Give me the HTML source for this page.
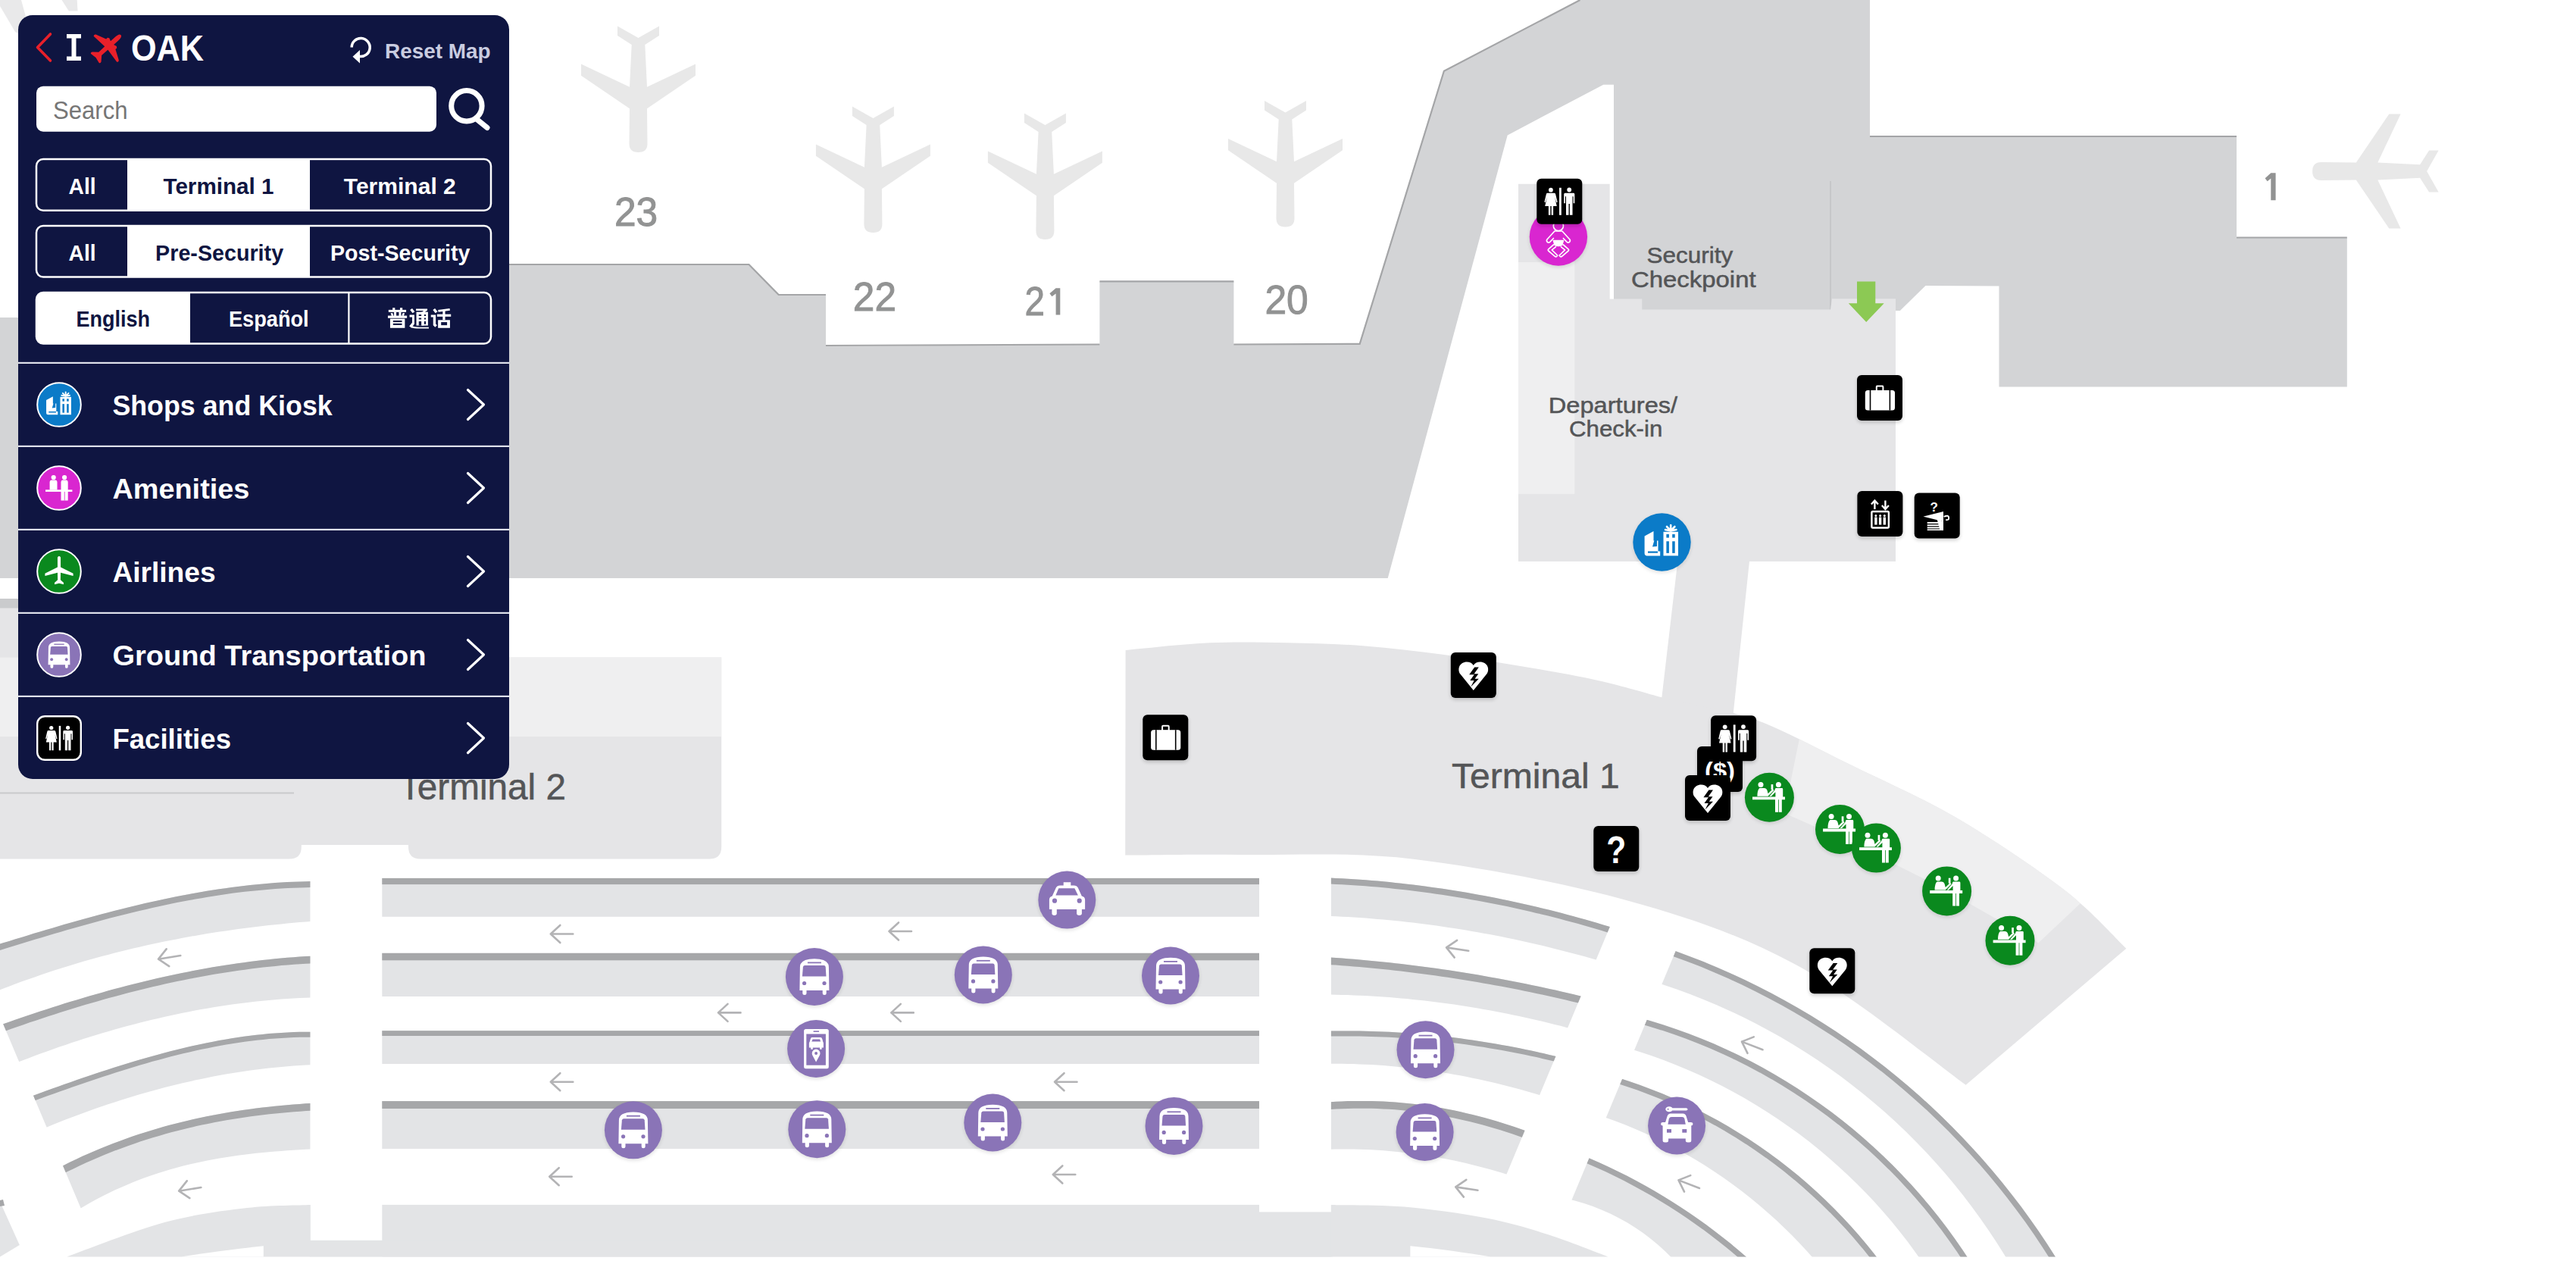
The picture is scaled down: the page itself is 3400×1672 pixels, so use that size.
<!DOCTYPE html>
<html><head><meta charset="utf-8"><title>OAK Map</title>
<style>html,body{margin:0;padding:0;background:#fff;overflow:hidden}svg{display:block}</style></head>
<body><svg width="3400" height="1672" viewBox="0 0 3400 1672">
<defs><filter id="blur" x="-30%" y="-30%" width="160%" height="160%"><feGaussianBlur stdDeviation="2.5"/></filter><clipPath id="cT1"><path d="M1485.6,857.9 C1504.1,856.3 1561.1,849.9 1596.7,848.3 C1632.3,846.7 1665.1,847.6 1699.2,848.3 C1733.3,849 1767.4,849.8 1801.6,852.4 C1835.8,855 1869.9,859.3 1904.1,863.7 C1938.3,868.1 1972.4,873.3 2006.6,879 C2040.8,884.7 2078.1,891 2109.1,897.9 C2140.1,904.8 2178.9,916.4 2192.8,920.1 L2286.8,940.6 C2295.7,943.7 2314.6,947.8 2340,959 C2365.4,970.2 2399.2,987.8 2439.4,1007.8 C2479.7,1027.8 2534.2,1051.2 2581.5,1078.8 C2628.8,1106.4 2686,1144.8 2723.5,1173.6 C2761,1202.4 2792.6,1238.7 2806.4,1251.7 L2594.6,1431.7 C2558.1,1405.8 2449.8,1316.5 2375.7,1276 C2301.6,1235.5 2235,1212.7 2150,1189 C2065,1165.3 1950.7,1144 1865.7,1133.8 C1780.7,1123.6 1703.4,1128.9 1640,1128 C1576.6,1127.1 1511,1128.5 1485.2,1128.6 Z"/></clipPath><clipPath id="cL"><polygon points="-101.9,1100 409.4,1100 409.4,1658.5 133.7,1658.5"/></clipPath><clipPath id="cM"><polygon points="1756.9,1100 2176.2,1100 1943,1658.5 1756.9,1658.5"/></clipPath><clipPath id="cR"><polygon points="2234.7,1200 3000,1200 3000,1658.5 2043.1,1658.5"/></clipPath></defs>
<rect width="3400" height="1672" fill="#fff"/>
<polygon fill="#d3d4d6" points="0,419 300,419 300,349 988.5,349 1027.7,389 1090,389 1090,457 1451.4,454.5 1451.4,371.4 1628.4,371.4 1628.4,454.5 1794.7,453.8 1905.9,93.7 2085.5,0 2468,0 2468,180 2952,180 2952,313.5 3097.8,313.5 3097.8,510.4 2638.5,510.4 2638.5,377.4 2541.5,377 2507.8,410 2502,410 2502,740.6 2004,740.6 2004,763 0,763"/><polyline fill="none" stroke="#a4a5a7" stroke-width="2.2" points="672,349 988.5,349 1027.7,389 1090,389"/><polyline fill="none" stroke="#a4a5a7" stroke-width="2.2" points="1090,456 1451.4,454.5"/><polyline fill="none" stroke="#a4a5a7" stroke-width="2.2" points="1451.4,371.4 1628.4,371.4"/><polyline fill="none" stroke="#a4a5a7" stroke-width="2.2" points="1628.4,454.5 1794.7,453.8 1905.9,93.7 2085.5,0"/><polyline fill="none" stroke="#a4a5a7" stroke-width="2.2" points="2468,180 2952,180"/><polyline fill="none" stroke="#a4a5a7" stroke-width="2.2" points="2952,313.5 3097.8,313.5"/><rect x="0" y="790" width="40" height="13" fill="#cacbcd"/><polygon fill="#fff" points="1989.7,178.4 2116.3,111.7 2130,111.7 2130,400 2004,400 2004,790 1824.5,790 1831.8,762.8"/><line x1="2416" y1="239" x2="2416" y2="409" stroke="#c6c7c9" stroke-width="2"/><polygon fill="#e5e5e7" points="2004,242.8 2124.7,242.8 2124.7,394.6 2167.3,394.6 2167.3,408.4 2416,408.4 2418,394.3 2502,394.3 2502,740.6 2004,740.6"/><rect x="2004" y="346" width="74.3" height="305.8" fill="#efeff0"/><polygon fill="#e5e5e7" points="2215,735 2309.6,735 2286.8,950 2192.8,925"/><path fill="#e5e5e7" d="M1485.6,857.9 C1504.1,856.3 1561.1,849.9 1596.7,848.3 C1632.3,846.7 1665.1,847.6 1699.2,848.3 C1733.3,849 1767.4,849.8 1801.6,852.4 C1835.8,855 1869.9,859.3 1904.1,863.7 C1938.3,868.1 1972.4,873.3 2006.6,879 C2040.8,884.7 2078.1,891 2109.1,897.9 C2140.1,904.8 2178.9,916.4 2192.8,920.1 L2286.8,940.6 C2295.7,943.7 2314.6,947.8 2340,959 C2365.4,970.2 2399.2,987.8 2439.4,1007.8 C2479.7,1027.8 2534.2,1051.2 2581.5,1078.8 C2628.8,1106.4 2686,1144.8 2723.5,1173.6 C2761,1202.4 2792.6,1238.7 2806.4,1251.7 L2594.6,1431.7 C2558.1,1405.8 2449.8,1316.5 2375.7,1276 C2301.6,1235.5 2235,1212.7 2150,1189 C2065,1165.3 1950.7,1144 1865.7,1133.8 C1780.7,1123.6 1703.4,1128.9 1640,1128 C1576.6,1127.1 1511,1128.5 1485.2,1128.6 Z"/><polygon clip-path="url(#cT1)" fill="#efeff0" points="2380,950 2780,1160 2690.5,1244.2 2560,1170 2450,1115 2355,1073"/><path fill="#e5e5e7" d="M0,802.5 L600,802.5 L600,867.6 L952.2,867.6 L952.2,1117.4 Q952.2,1133.4 936.2,1133.4 L555,1133.4 Q539,1133.4 539,1117.4 L539,1115 L397.8,1115 L397.8,1117.4 Q397.8,1133.4 381.8,1133.4 L0,1133.4 Z"/><rect x="0" y="867.6" width="952.2" height="104.4" fill="#efeff0"/><line x1="0" y1="1046.4" x2="388" y2="1046.4" stroke="#c9cacc" stroke-width="2"/><g clip-path="url(#cL)"><polygon fill="#e3e4e6" points="-60,1264.6 -51.9,1262 -43.7,1259.5 -35.6,1256.9 -27.5,1254.4 -19.3,1251.8 -11.2,1249.3 -3.1,1246.7 5.1,1244.2 13.2,1241.7 21.4,1239.2 29.5,1236.7 37.6,1234.2 45.8,1231.7 53.9,1229.3 62,1226.9 70.2,1224.5 78.3,1222.1 86.4,1219.7 94.6,1217.4 102.7,1215.1 110.8,1212.8 119,1210.6 127.1,1208.4 135.3,1206.2 143.4,1204 151.5,1201.9 159.7,1199.9 167.8,1197.8 175.9,1195.9 184.1,1193.9 192.2,1192 200.3,1190.2 208.5,1188.4 216.6,1186.6 224.7,1184.9 232.9,1183.2 241,1181.6 249.2,1180.1 257.3,1178.6 265.4,1177.2 273.6,1175.8 281.7,1174.5 289.8,1173.2 298,1172.1 306.1,1170.9 314.2,1169.9 322.4,1168.9 330.5,1168 338.6,1167.2 346.8,1166.4 354.9,1165.7 363.1,1165.1 371.2,1164.6 379.3,1164.1 387.5,1163.7 395.6,1163.4 403.7,1163.2 411.9,1163.1 420,1163.1 420,1215.2 411.9,1215.8 403.7,1216.4 395.6,1217.1 387.5,1217.8 379.3,1218.6 371.2,1219.4 363.1,1220.2 354.9,1221.1 346.8,1222 338.6,1222.9 330.5,1223.9 322.4,1225 314.2,1226.1 306.1,1227.2 298,1228.4 289.8,1229.6 281.7,1230.8 273.6,1232.1 265.4,1233.5 257.3,1234.9 249.2,1236.3 241,1237.8 232.9,1239.4 224.7,1241 216.6,1242.6 208.5,1244.3 200.3,1246 192.2,1247.8 184.1,1249.7 175.9,1251.5 167.8,1253.5 159.7,1255.5 151.5,1257.5 143.4,1259.7 135.3,1261.8 127.1,1264 119,1266.3 110.8,1268.6 102.7,1271 94.6,1273.5 86.4,1276 78.3,1278.5 70.2,1281.1 62,1283.8 53.9,1286.6 45.8,1289.4 37.6,1292.2 29.5,1295.1 21.4,1298.1 13.2,1301.2 5.1,1304.3 -3.1,1307.5 -11.2,1310.7 -19.3,1314 -27.5,1317.4 -35.6,1320.8 -43.7,1324.3 -51.9,1327.9 -60,1331.5"/><polyline fill="none" stroke="#a6a7a9" stroke-width="8" points="-60,1268.6 -51.9,1266 -43.7,1263.5 -35.6,1260.9 -27.5,1258.4 -19.3,1255.8 -11.2,1253.3 -3.1,1250.7 5.1,1248.2 13.2,1245.7 21.4,1243.2 29.5,1240.7 37.6,1238.2 45.8,1235.7 53.9,1233.3 62,1230.9 70.2,1228.5 78.3,1226.1 86.4,1223.7 94.6,1221.4 102.7,1219.1 110.8,1216.8 119,1214.6 127.1,1212.4 135.3,1210.2 143.4,1208 151.5,1205.9 159.7,1203.9 167.8,1201.8 175.9,1199.9 184.1,1197.9 192.2,1196 200.3,1194.2 208.5,1192.4 216.6,1190.6 224.7,1188.9 232.9,1187.2 241,1185.6 249.2,1184.1 257.3,1182.6 265.4,1181.2 273.6,1179.8 281.7,1178.5 289.8,1177.2 298,1176.1 306.1,1174.9 314.2,1173.9 322.4,1172.9 330.5,1172 338.6,1171.2 346.8,1170.4 354.9,1169.7 363.1,1169.1 371.2,1168.6 379.3,1168.1 387.5,1167.7 395.6,1167.4 403.7,1167.2 411.9,1167.1 420,1167.1"/><polygon fill="#e3e4e6" points="-60,1375.4 -51.9,1372.3 -43.7,1369.2 -35.6,1366.1 -27.5,1363.1 -19.3,1360.1 -11.2,1357.1 -3.1,1354.2 5.1,1351.3 13.2,1348.4 21.4,1345.6 29.5,1342.8 37.6,1340 45.8,1337.3 53.9,1334.6 62,1331.9 70.2,1329.3 78.3,1326.7 86.4,1324.1 94.6,1321.6 102.7,1319.2 110.8,1316.7 119,1314.3 127.1,1312 135.3,1309.7 143.4,1307.4 151.5,1305.2 159.7,1303 167.8,1300.9 175.9,1298.8 184.1,1296.8 192.2,1294.8 200.3,1292.9 208.5,1291 216.6,1289.1 224.7,1287.3 232.9,1285.6 241,1283.9 249.2,1282.3 257.3,1280.7 265.4,1279.2 273.6,1277.7 281.7,1276.3 289.8,1274.9 298,1273.6 306.1,1272.4 314.2,1271.2 322.4,1270.1 330.5,1269 338.6,1268 346.8,1267 354.9,1266.1 363.1,1265.3 371.2,1264.5 379.3,1263.8 387.5,1263.2 395.6,1262.6 403.7,1262.1 411.9,1261.7 420,1261.3 420,1316.2 411.9,1316.4 403.7,1316.7 395.6,1317.1 387.5,1317.5 379.3,1318 371.2,1318.6 363.1,1319.2 354.9,1319.9 346.8,1320.7 338.6,1321.6 330.5,1322.5 322.4,1323.4 314.2,1324.5 306.1,1325.6 298,1326.8 289.8,1328 281.7,1329.3 273.6,1330.7 265.4,1332.1 257.3,1333.6 249.2,1335.2 241,1336.8 232.9,1338.5 224.7,1340.2 216.6,1342 208.5,1343.9 200.3,1345.8 192.2,1347.8 184.1,1349.8 175.9,1351.9 167.8,1354.1 159.7,1356.3 151.5,1358.6 143.4,1360.9 135.3,1363.3 127.1,1365.8 119,1368.3 110.8,1370.8 102.7,1373.5 94.6,1376.1 86.4,1378.9 78.3,1381.6 70.2,1384.5 62,1387.4 53.9,1390.3 45.8,1393.3 37.6,1396.4 29.5,1399.5 21.4,1402.6 13.2,1405.8 5.1,1409.1 -3.1,1412.4 -11.2,1415.7 -19.3,1419.1 -27.5,1422.6 -35.6,1426.1 -43.7,1429.6 -51.9,1433.2 -60,1436.9"/><polyline fill="none" stroke="#a6a7a9" stroke-width="9.6" points="-60,1380.2 -51.9,1377.1 -43.7,1374 -35.6,1370.9 -27.5,1367.9 -19.3,1364.9 -11.2,1361.9 -3.1,1359 5.1,1356.1 13.2,1353.2 21.4,1350.4 29.5,1347.6 37.6,1344.8 45.8,1342.1 53.9,1339.4 62,1336.7 70.2,1334.1 78.3,1331.5 86.4,1328.9 94.6,1326.4 102.7,1324 110.8,1321.5 119,1319.1 127.1,1316.8 135.3,1314.5 143.4,1312.2 151.5,1310 159.7,1307.8 167.8,1305.7 175.9,1303.6 184.1,1301.6 192.2,1299.6 200.3,1297.7 208.5,1295.8 216.6,1293.9 224.7,1292.1 232.9,1290.4 241,1288.7 249.2,1287.1 257.3,1285.5 265.4,1284 273.6,1282.5 281.7,1281.1 289.8,1279.7 298,1278.4 306.1,1277.2 314.2,1276 322.4,1274.9 330.5,1273.8 338.6,1272.8 346.8,1271.8 354.9,1270.9 363.1,1270.1 371.2,1269.3 379.3,1268.6 387.5,1268 395.6,1267.4 403.7,1266.9 411.9,1266.5 420,1266.1"/><polygon fill="#e3e4e6" points="-60,1484 -51.9,1481.1 -43.7,1478.1 -35.6,1475.2 -27.5,1472.2 -19.3,1469.2 -11.2,1466.2 -3.1,1463.2 5.1,1460.2 13.2,1457.2 21.4,1454.2 29.5,1451.2 37.6,1448.2 45.8,1445.2 53.9,1442.3 62,1439.3 70.2,1436.4 78.3,1433.5 86.4,1430.6 94.6,1427.8 102.7,1424.9 110.8,1422.1 119,1419.4 127.1,1416.6 135.3,1413.9 143.4,1411.3 151.5,1408.7 159.7,1406.1 167.8,1403.6 175.9,1401.1 184.1,1398.7 192.2,1396.3 200.3,1394 208.5,1391.8 216.6,1389.6 224.7,1387.4 232.9,1385.4 241,1383.4 249.2,1381.5 257.3,1379.6 265.4,1377.9 273.6,1376.2 281.7,1374.6 289.8,1373 298,1371.6 306.1,1370.2 314.2,1369 322.4,1367.8 330.5,1366.7 338.6,1365.7 346.8,1364.9 354.9,1364.1 363.1,1363.4 371.2,1362.9 379.3,1362.4 387.5,1362.1 395.6,1361.8 403.7,1361.7 411.9,1361.7 420,1361.8 420,1404.7 411.9,1405.1 403.7,1405.5 395.6,1406 387.5,1406.5 379.3,1407.2 371.2,1407.9 363.1,1408.7 354.9,1409.5 346.8,1410.5 338.6,1411.5 330.5,1412.6 322.4,1413.7 314.2,1415 306.1,1416.3 298,1417.6 289.8,1419.1 281.7,1420.6 273.6,1422.2 265.4,1423.9 257.3,1425.6 249.2,1427.4 241,1429.3 232.9,1431.2 224.7,1433.2 216.6,1435.3 208.5,1437.5 200.3,1439.7 192.2,1442 184.1,1444.3 175.9,1446.7 167.8,1449.2 159.7,1451.8 151.5,1454.4 143.4,1457.1 135.3,1459.8 127.1,1462.6 119,1465.5 110.8,1468.4 102.7,1471.4 94.6,1474.5 86.4,1477.6 78.3,1480.8 70.2,1484.1 62,1487.4 53.9,1490.8 45.8,1494.3 37.6,1497.8 29.5,1501.3 21.4,1505 13.2,1508.6 5.1,1512.4 -3.1,1516.2 -11.2,1520.1 -19.3,1524 -27.5,1528 -35.6,1532 -43.7,1536.1 -51.9,1540.3 -60,1544.5"/><polyline fill="none" stroke="#a6a7a9" stroke-width="7" points="-60,1487.5 -51.9,1484.6 -43.7,1481.6 -35.6,1478.7 -27.5,1475.7 -19.3,1472.7 -11.2,1469.7 -3.1,1466.7 5.1,1463.7 13.2,1460.7 21.4,1457.7 29.5,1454.7 37.6,1451.7 45.8,1448.7 53.9,1445.8 62,1442.8 70.2,1439.9 78.3,1437 86.4,1434.1 94.6,1431.3 102.7,1428.4 110.8,1425.6 119,1422.9 127.1,1420.1 135.3,1417.4 143.4,1414.8 151.5,1412.2 159.7,1409.6 167.8,1407.1 175.9,1404.6 184.1,1402.2 192.2,1399.8 200.3,1397.5 208.5,1395.3 216.6,1393.1 224.7,1390.9 232.9,1388.9 241,1386.9 249.2,1385 257.3,1383.1 265.4,1381.4 273.6,1379.7 281.7,1378.1 289.8,1376.5 298,1375.1 306.1,1373.7 314.2,1372.5 322.4,1371.3 330.5,1370.2 338.6,1369.2 346.8,1368.4 354.9,1367.6 363.1,1366.9 371.2,1366.4 379.3,1365.9 387.5,1365.6 395.6,1365.3 403.7,1365.2 411.9,1365.2 420,1365.3"/><polygon fill="#e3e4e6" points="-60,1632.4 -51.9,1625.8 -43.7,1619.4 -35.6,1613.2 -27.5,1607.1 -19.3,1601.2 -11.2,1595.4 -3.1,1589.8 5.1,1584.3 13.2,1578.9 21.4,1573.7 29.5,1568.7 37.6,1563.8 45.8,1559 53.9,1554.3 62,1549.8 70.2,1545.4 78.3,1541.2 86.4,1537.1 94.6,1533.1 102.7,1529.2 110.8,1525.4 119,1521.8 127.1,1518.3 135.3,1514.9 143.4,1511.6 151.5,1508.4 159.7,1505.4 167.8,1502.4 175.9,1499.6 184.1,1496.8 192.2,1494.2 200.3,1491.7 208.5,1489.3 216.6,1486.9 224.7,1484.7 232.9,1482.6 241,1480.5 249.2,1478.6 257.3,1476.7 265.4,1474.9 273.6,1473.2 281.7,1471.6 289.8,1470.1 298,1468.6 306.1,1467.3 314.2,1466 322.4,1464.8 330.5,1463.6 338.6,1462.5 346.8,1461.5 354.9,1460.6 363.1,1459.7 371.2,1458.9 379.3,1458.2 387.5,1457.5 395.6,1456.9 403.7,1456.3 411.9,1455.8 420,1455.3 420,1515.8 411.9,1516.3 403.7,1516.7 395.6,1517.2 387.5,1517.7 379.3,1518.3 371.2,1518.9 363.1,1519.5 354.9,1520.2 346.8,1521 338.6,1521.8 330.5,1522.7 322.4,1523.7 314.2,1524.8 306.1,1525.9 298,1527.2 289.8,1528.5 281.7,1530 273.6,1531.5 265.4,1533.2 257.3,1534.9 249.2,1536.8 241,1538.8 232.9,1541 224.7,1543.3 216.6,1545.7 208.5,1548.2 200.3,1550.9 192.2,1553.8 184.1,1556.8 175.9,1560 167.8,1563.4 159.7,1566.9 151.5,1570.6 143.4,1574.5 135.3,1578.5 127.1,1582.8 119,1587.3 110.8,1591.9 102.7,1596.8 94.6,1601.9 86.4,1607.2 78.3,1612.7 70.2,1618.5 62,1624.5 53.9,1630.7 45.8,1637.1 37.6,1643.8 29.5,1650.8 21.4,1658 13.2,1665.5 5.1,1673.2 -3.1,1681.2 -11.2,1689.5 -19.3,1698.1 -27.5,1706.9 -35.6,1716.1 -43.7,1725.5 -51.9,1735.2 -60,1745.3"/><polyline fill="none" stroke="#a6a7a9" stroke-width="9.8" points="-60,1637.3 -51.9,1630.7 -43.7,1624.3 -35.6,1618.1 -27.5,1612 -19.3,1606.1 -11.2,1600.3 -3.1,1594.7 5.1,1589.2 13.2,1583.8 21.4,1578.6 29.5,1573.6 37.6,1568.7 45.8,1563.9 53.9,1559.2 62,1554.7 70.2,1550.3 78.3,1546.1 86.4,1542 94.6,1538 102.7,1534.1 110.8,1530.3 119,1526.7 127.1,1523.2 135.3,1519.8 143.4,1516.5 151.5,1513.3 159.7,1510.3 167.8,1507.3 175.9,1504.5 184.1,1501.7 192.2,1499.1 200.3,1496.6 208.5,1494.2 216.6,1491.8 224.7,1489.6 232.9,1487.5 241,1485.4 249.2,1483.5 257.3,1481.6 265.4,1479.8 273.6,1478.1 281.7,1476.5 289.8,1475 298,1473.5 306.1,1472.2 314.2,1470.9 322.4,1469.7 330.5,1468.5 338.6,1467.4 346.8,1466.4 354.9,1465.5 363.1,1464.6 371.2,1463.8 379.3,1463.1 387.5,1462.4 395.6,1461.8 403.7,1461.2 411.9,1460.7 420,1460.2"/></g><polygon fill="#e3e4e6" points="0,1585.8 25.8,1642.9 0,1658.4"/><polygon fill="#a6a7a9" points="0,1584 4,1583 6,1591 0,1592"/><path fill="#e3e4e6" d="M88.3,1658.4  C109.8,1650.8 177.8,1623.7 217.4,1613 C257,1602.3 293.9,1597.8 326,1594 C358.1,1590.2 395.8,1590.6 409.8,1589.9 L409.8,1658.4 Z"/><path fill="#fff" d="M239,1658.6 C280,1652 320,1647 347.8,1644.2 L347.8,1658.6 Z"/><rect x="504.3" y="1158.9" width="1157.7" height="50.9" fill="#e3e4e6"/><rect x="504.3" y="1158.9" width="1157.7" height="8.2" fill="#a6a7a9"/><rect x="504.3" y="1257.8" width="1157.7" height="57.2" fill="#e3e4e6"/><rect x="504.3" y="1257.8" width="1157.7" height="9.5" fill="#a6a7a9"/><rect x="504.3" y="1360.2" width="1157.7" height="43.8" fill="#e3e4e6"/><rect x="504.3" y="1360.2" width="1157.7" height="6.8" fill="#a6a7a9"/><rect x="504.3" y="1453.1" width="1157.7" height="62.9" fill="#e3e4e6"/><rect x="504.3" y="1453.1" width="1157.7" height="9.9" fill="#a6a7a9"/><rect x="409.4" y="1636.9" width="1347.5" height="21.5" fill="#e3e4e6"/><rect x="504.3" y="1589.9" width="1157.7" height="68.5" fill="#e3e4e6"/><rect x="409" y="1636.9" width="1350" height="21.5" fill="#e3e4e6"/><rect x="1662" y="1599.4" width="95" height="59" fill="#e3e4e6"/><g clip-path="url(#cM)"><polygon fill="#e3e4e6" points="1740,1157.9 1747.8,1158.2 1755.6,1158.5 1763.4,1158.9 1771.2,1159.3 1779,1159.7 1786.8,1160.2 1794.6,1160.8 1802.4,1161.3 1810.2,1162 1818,1162.6 1825.8,1163.3 1833.6,1164.1 1841.4,1164.9 1849.2,1165.7 1856.9,1166.6 1864.7,1167.5 1872.5,1168.5 1880.3,1169.5 1888.1,1170.6 1895.9,1171.7 1903.7,1172.8 1911.5,1174 1919.3,1175.2 1927.1,1176.5 1934.9,1177.8 1942.7,1179.2 1950.5,1180.6 1958.3,1182 1966.1,1183.5 1973.9,1185 1981.7,1186.6 1989.5,1188.2 1997.3,1189.9 2005.1,1191.6 2012.9,1193.3 2020.7,1195.1 2028.5,1197 2036.3,1198.8 2044.1,1200.7 2051.9,1202.7 2059.7,1204.7 2067.5,1206.8 2075.3,1208.9 2083.1,1211 2090.8,1213.2 2098.6,1215.4 2106.4,1217.7 2114.2,1220 2122,1222.3 2129.8,1224.7 2137.6,1227.1 2145.4,1229.6 2153.2,1232.2 2161,1234.7 2168.8,1237.3 2176.6,1240 2184.4,1242.7 2192.2,1245.4 2200,1248.2 2200,1296.5 2192.2,1293.8 2184.4,1291.1 2176.6,1288.4 2168.8,1285.8 2161,1283.3 2153.2,1280.7 2145.4,1278.3 2137.6,1275.8 2129.8,1273.4 2122,1271.1 2114.2,1268.8 2106.4,1266.5 2098.6,1264.3 2090.8,1262.1 2083.1,1260 2075.3,1257.9 2067.5,1255.9 2059.7,1253.9 2051.9,1251.9 2044.1,1250 2036.3,1248.1 2028.5,1246.3 2020.7,1244.5 2012.9,1242.7 2005.1,1241 1997.3,1239.3 1989.5,1237.7 1981.7,1236.1 1973.9,1234.6 1966.1,1233.1 1958.3,1231.7 1950.5,1230.3 1942.7,1228.9 1934.9,1227.6 1927.1,1226.3 1919.3,1225.1 1911.5,1223.9 1903.7,1222.7 1895.9,1221.6 1888.1,1220.5 1880.3,1219.5 1872.5,1218.5 1864.7,1217.6 1856.9,1216.7 1849.2,1215.8 1841.4,1215 1833.6,1214.3 1825.8,1213.5 1818,1212.9 1810.2,1212.2 1802.4,1211.6 1794.6,1211.1 1786.8,1210.6 1779,1210.1 1771.2,1209.7 1763.4,1209.3 1755.6,1209 1747.8,1208.7 1740,1208.4"/><polyline fill="none" stroke="#a6a7a9" stroke-width="8" points="1740,1161.9 1747.8,1162.2 1755.6,1162.5 1763.4,1162.9 1771.2,1163.3 1779,1163.7 1786.8,1164.2 1794.6,1164.8 1802.4,1165.3 1810.2,1166 1818,1166.6 1825.8,1167.3 1833.6,1168.1 1841.4,1168.9 1849.2,1169.7 1856.9,1170.6 1864.7,1171.5 1872.5,1172.5 1880.3,1173.5 1888.1,1174.6 1895.9,1175.7 1903.7,1176.8 1911.5,1178 1919.3,1179.2 1927.1,1180.5 1934.9,1181.8 1942.7,1183.2 1950.5,1184.6 1958.3,1186 1966.1,1187.5 1973.9,1189 1981.7,1190.6 1989.5,1192.2 1997.3,1193.9 2005.1,1195.6 2012.9,1197.3 2020.7,1199.1 2028.5,1201 2036.3,1202.8 2044.1,1204.7 2051.9,1206.7 2059.7,1208.7 2067.5,1210.8 2075.3,1212.9 2083.1,1215 2090.8,1217.2 2098.6,1219.4 2106.4,1221.7 2114.2,1224 2122,1226.3 2129.8,1228.7 2137.6,1231.1 2145.4,1233.6 2153.2,1236.2 2161,1238.7 2168.8,1241.3 2176.6,1244 2184.4,1246.7 2192.2,1249.4 2200,1252.2"/><polygon fill="#e3e4e6" points="1740,1262.5 1747.8,1263 1755.6,1263.5 1763.4,1264 1771.2,1264.6 1779,1265.2 1786.8,1265.8 1794.6,1266.5 1802.4,1267.2 1810.2,1267.9 1818,1268.7 1825.8,1269.4 1833.6,1270.3 1841.4,1271.1 1849.2,1272 1856.9,1272.9 1864.7,1273.9 1872.5,1274.9 1880.3,1275.9 1888.1,1277 1895.9,1278 1903.7,1279.2 1911.5,1280.3 1919.3,1281.5 1927.1,1282.7 1934.9,1283.9 1942.7,1285.2 1950.5,1286.5 1958.3,1287.9 1966.1,1289.3 1973.9,1290.7 1981.7,1292.1 1989.5,1293.6 1997.3,1295.1 2005.1,1296.6 2012.9,1298.2 2020.7,1299.8 2028.5,1301.4 2036.3,1303.1 2044.1,1304.8 2051.9,1306.5 2059.7,1308.3 2067.5,1310.1 2075.3,1311.9 2083.1,1313.8 2090.8,1315.7 2098.6,1317.6 2106.4,1319.6 2114.2,1321.6 2122,1323.6 2129.8,1325.7 2137.6,1327.8 2145.4,1329.9 2153.2,1332.1 2161,1334.2 2168.8,1336.5 2176.6,1338.7 2184.4,1341 2192.2,1343.3 2200,1345.7 2200,1397.7 2192.2,1394.9 2184.4,1392.1 2176.6,1389.3 2168.8,1386.6 2161,1384 2153.2,1381.3 2145.4,1378.8 2137.6,1376.3 2129.8,1373.8 2122,1371.4 2114.2,1369 2106.4,1366.7 2098.6,1364.5 2090.8,1362.2 2083.1,1360.1 2075.3,1357.9 2067.5,1355.9 2059.7,1353.8 2051.9,1351.9 2044.1,1349.9 2036.3,1348.1 2028.5,1346.2 2020.7,1344.4 2012.9,1342.7 2005.1,1341 1997.3,1339.4 1989.5,1337.8 1981.7,1336.2 1973.9,1334.8 1966.1,1333.3 1958.3,1331.9 1950.5,1330.6 1942.7,1329.3 1934.9,1328 1927.1,1326.8 1919.3,1325.6 1911.5,1324.5 1903.7,1323.5 1895.9,1322.5 1888.1,1321.5 1880.3,1320.6 1872.5,1319.7 1864.7,1318.9 1856.9,1318.1 1849.2,1317.4 1841.4,1316.7 1833.6,1316.1 1825.8,1315.5 1818,1315 1810.2,1314.5 1802.4,1314.1 1794.6,1313.7 1786.8,1313.4 1779,1313.1 1771.2,1312.9 1763.4,1312.7 1755.6,1312.5 1747.8,1312.4 1740,1312.4"/><polyline fill="none" stroke="#a6a7a9" stroke-width="9.6" points="1740,1267.3 1747.8,1267.8 1755.6,1268.3 1763.4,1268.8 1771.2,1269.4 1779,1270 1786.8,1270.6 1794.6,1271.3 1802.4,1272 1810.2,1272.7 1818,1273.5 1825.8,1274.2 1833.6,1275.1 1841.4,1275.9 1849.2,1276.8 1856.9,1277.7 1864.7,1278.7 1872.5,1279.7 1880.3,1280.7 1888.1,1281.8 1895.9,1282.8 1903.7,1284 1911.5,1285.1 1919.3,1286.3 1927.1,1287.5 1934.9,1288.7 1942.7,1290 1950.5,1291.3 1958.3,1292.7 1966.1,1294.1 1973.9,1295.5 1981.7,1296.9 1989.5,1298.4 1997.3,1299.9 2005.1,1301.4 2012.9,1303 2020.7,1304.6 2028.5,1306.2 2036.3,1307.9 2044.1,1309.6 2051.9,1311.3 2059.7,1313.1 2067.5,1314.9 2075.3,1316.7 2083.1,1318.6 2090.8,1320.5 2098.6,1322.4 2106.4,1324.4 2114.2,1326.4 2122,1328.4 2129.8,1330.5 2137.6,1332.6 2145.4,1334.7 2153.2,1336.9 2161,1339 2168.8,1341.3 2176.6,1343.5 2184.4,1345.8 2192.2,1348.1 2200,1350.5"/><polygon fill="#e3e4e6" points="1740,1361 1747.8,1360.8 1755.6,1360.6 1763.4,1360.5 1771.2,1360.4 1779,1360.4 1786.8,1360.5 1794.6,1360.6 1802.4,1360.7 1810.2,1360.9 1818,1361.2 1825.8,1361.5 1833.6,1361.8 1841.4,1362.3 1849.2,1362.7 1856.9,1363.2 1864.7,1363.8 1872.5,1364.4 1880.3,1365.1 1888.1,1365.9 1895.9,1366.6 1903.7,1367.5 1911.5,1368.4 1919.3,1369.3 1927.1,1370.3 1934.9,1371.4 1942.7,1372.5 1950.5,1373.7 1958.3,1374.9 1966.1,1376.2 1973.9,1377.5 1981.7,1378.9 1989.5,1380.3 1997.3,1381.8 2005.1,1383.3 2012.9,1384.9 2020.7,1386.5 2028.5,1388.2 2036.3,1390 2044.1,1391.8 2051.9,1393.6 2059.7,1395.6 2067.5,1397.5 2075.3,1399.5 2083.1,1401.6 2090.8,1403.7 2098.6,1405.9 2106.4,1408.2 2114.2,1410.4 2122,1412.8 2129.8,1415.2 2137.6,1417.6 2145.4,1420.1 2153.2,1422.7 2161,1425.3 2168.8,1427.9 2176.6,1430.6 2184.4,1433.4 2192.2,1436.2 2200,1439.1 2200,1511.7 2192.2,1507.9 2184.4,1504.2 2176.6,1500.5 2168.8,1497 2161,1493.4 2153.2,1490 2145.4,1486.6 2137.6,1483.3 2129.8,1480 2122,1476.9 2114.2,1473.8 2106.4,1470.7 2098.6,1467.7 2090.8,1464.8 2083.1,1462 2075.3,1459.2 2067.5,1456.5 2059.7,1453.9 2051.9,1451.3 2044.1,1448.8 2036.3,1446.4 2028.5,1444 2020.7,1441.7 2012.9,1439.5 2005.1,1437.3 1997.3,1435.2 1989.5,1433.2 1981.7,1431.2 1973.9,1429.3 1966.1,1427.5 1958.3,1425.7 1950.5,1424 1942.7,1422.4 1934.9,1420.8 1927.1,1419.3 1919.3,1417.9 1911.5,1416.6 1903.7,1415.3 1895.9,1414.1 1888.1,1412.9 1880.3,1411.8 1872.5,1410.8 1864.7,1409.9 1856.9,1409 1849.2,1408.2 1841.4,1407.4 1833.6,1406.7 1825.8,1406.1 1818,1405.6 1810.2,1405.1 1802.4,1404.7 1794.6,1404.4 1786.8,1404.1 1779,1403.9 1771.2,1403.7 1763.4,1403.7 1755.6,1403.7 1747.8,1403.7 1740,1403.9"/><polyline fill="none" stroke="#a6a7a9" stroke-width="7" points="1740,1364.5 1747.8,1364.3 1755.6,1364.1 1763.4,1364 1771.2,1363.9 1779,1363.9 1786.8,1364 1794.6,1364.1 1802.4,1364.2 1810.2,1364.4 1818,1364.7 1825.8,1365 1833.6,1365.3 1841.4,1365.8 1849.2,1366.2 1856.9,1366.7 1864.7,1367.3 1872.5,1367.9 1880.3,1368.6 1888.1,1369.4 1895.9,1370.1 1903.7,1371 1911.5,1371.9 1919.3,1372.8 1927.1,1373.8 1934.9,1374.9 1942.7,1376 1950.5,1377.2 1958.3,1378.4 1966.1,1379.7 1973.9,1381 1981.7,1382.4 1989.5,1383.8 1997.3,1385.3 2005.1,1386.8 2012.9,1388.4 2020.7,1390 2028.5,1391.7 2036.3,1393.5 2044.1,1395.3 2051.9,1397.1 2059.7,1399.1 2067.5,1401 2075.3,1403 2083.1,1405.1 2090.8,1407.2 2098.6,1409.4 2106.4,1411.7 2114.2,1413.9 2122,1416.3 2129.8,1418.7 2137.6,1421.1 2145.4,1423.6 2153.2,1426.2 2161,1428.8 2168.8,1431.4 2176.6,1434.1 2184.4,1436.9 2192.2,1439.7 2200,1442.6"/><polygon fill="#e3e4e6" points="1740,1455.6 1747.8,1454.9 1755.6,1454.3 1763.4,1453.8 1771.2,1453.4 1779,1453.1 1786.8,1452.9 1794.6,1452.9 1802.4,1452.9 1810.2,1453 1818,1453.2 1825.8,1453.6 1833.6,1454 1841.4,1454.5 1849.2,1455.2 1856.9,1455.9 1864.7,1456.8 1872.5,1457.7 1880.3,1458.7 1888.1,1459.9 1895.9,1461.2 1903.7,1462.5 1911.5,1464 1919.3,1465.5 1927.1,1467.2 1934.9,1469 1942.7,1470.8 1950.5,1472.8 1958.3,1474.9 1966.1,1477.1 1973.9,1479.3 1981.7,1481.7 1989.5,1484.2 1997.3,1486.8 2005.1,1489.5 2012.9,1492.3 2020.7,1495.2 2028.5,1498.2 2036.3,1501.3 2044.1,1504.5 2051.9,1507.8 2059.7,1511.2 2067.5,1514.7 2075.3,1518.3 2083.1,1522 2090.8,1525.8 2098.6,1529.8 2106.4,1533.8 2114.2,1537.9 2122,1542.2 2129.8,1546.5 2137.6,1550.9 2145.4,1555.5 2153.2,1560.1 2161,1564.8 2168.8,1569.7 2176.6,1574.6 2184.4,1579.7 2192.2,1584.8 2200,1590.1 2200,1647.9 2192.2,1643.1 2184.4,1638.4 2176.6,1633.8 2168.8,1629.3 2161,1624.9 2153.2,1620.6 2145.4,1616.3 2137.6,1612.2 2129.8,1608.1 2122,1604.1 2114.2,1600.2 2106.4,1596.4 2098.6,1592.7 2090.8,1589.1 2083.1,1585.5 2075.3,1582.1 2067.5,1578.7 2059.7,1575.4 2051.9,1572.3 2044.1,1569.2 2036.3,1566.2 2028.5,1563.2 2020.7,1560.4 2012.9,1557.7 2005.1,1555 1997.3,1552.4 1989.5,1550 1981.7,1547.6 1973.9,1545.3 1966.1,1543.1 1958.3,1540.9 1950.5,1538.9 1942.7,1536.9 1934.9,1535.1 1927.1,1533.3 1919.3,1531.6 1911.5,1530 1903.7,1528.5 1895.9,1527.1 1888.1,1525.8 1880.3,1524.5 1872.5,1523.4 1864.7,1522.3 1856.9,1521.3 1849.2,1520.5 1841.4,1519.7 1833.6,1518.9 1825.8,1518.3 1818,1517.8 1810.2,1517.3 1802.4,1517 1794.6,1516.7 1786.8,1516.5 1779,1516.4 1771.2,1516.4 1763.4,1516.5 1755.6,1516.7 1747.8,1517 1740,1517.3"/><polyline fill="none" stroke="#a6a7a9" stroke-width="9.8" points="1740,1460.5 1747.8,1459.8 1755.6,1459.2 1763.4,1458.7 1771.2,1458.3 1779,1458 1786.8,1457.8 1794.6,1457.8 1802.4,1457.8 1810.2,1457.9 1818,1458.1 1825.8,1458.5 1833.6,1458.9 1841.4,1459.4 1849.2,1460.1 1856.9,1460.8 1864.7,1461.7 1872.5,1462.6 1880.3,1463.6 1888.1,1464.8 1895.9,1466.1 1903.7,1467.4 1911.5,1468.9 1919.3,1470.4 1927.1,1472.1 1934.9,1473.9 1942.7,1475.7 1950.5,1477.7 1958.3,1479.8 1966.1,1482 1973.9,1484.2 1981.7,1486.6 1989.5,1489.1 1997.3,1491.7 2005.1,1494.4 2012.9,1497.2 2020.7,1500.1 2028.5,1503.1 2036.3,1506.2 2044.1,1509.4 2051.9,1512.7 2059.7,1516.1 2067.5,1519.6 2075.3,1523.2 2083.1,1526.9 2090.8,1530.7 2098.6,1534.7 2106.4,1538.7 2114.2,1542.8 2122,1547.1 2129.8,1551.4 2137.6,1555.8 2145.4,1560.4 2153.2,1565 2161,1569.7 2168.8,1574.6 2176.6,1579.5 2184.4,1584.6 2192.2,1589.7 2200,1595"/></g><path fill="#e3e4e6" d="M1756.8,1589.9  C1772.9,1590.4 1819.1,1589.6 1853.3,1592.6 C1887.5,1595.5 1930.3,1601.5 1962,1607.6 C1993.7,1613.7 2016.8,1620.8 2043.5,1629.3 C2070.2,1637.8 2109.2,1653.6 2122.3,1658.4 L1756.8,1658.4 Z"/><path fill="#fff" d="M1861.4,1644.2 C1900,1648 1935,1653 1967.4,1658.6 L1861.4,1658.6 Z"/><g clip-path="url(#cR)"><polygon fill="#e3e4e6" points="1460.6,1293.4 1478.5,1285 1496.6,1277 1514.9,1269.4 1533.3,1262.2 1551.9,1255.3 1570.6,1248.8 1589.4,1242.7 1608.3,1237 1627.4,1231.7 1646.5,1226.7 1665.8,1222.2 1685.1,1218 1704.5,1214.2 1724,1210.8 1743.6,1207.8 1763.2,1205.2 1782.9,1203 1802.6,1201.2 1822.3,1199.8 1842,1198.8 1861.8,1198.2 1881.6,1198 1901.4,1198.2 1921.1,1198.8 1940.9,1199.7 1960.6,1201.1 1980.3,1202.9 2000,1205.1 2019.6,1207.7 2039.2,1210.7 2058.6,1214.1 2078.1,1217.8 2097.4,1222 2116.7,1226.5 2135.8,1231.5 2154.9,1236.8 2173.8,1242.5 2192.7,1248.6 2211.4,1255.1 2230,1261.9 2248.4,1269.2 2266.7,1276.8 2284.8,1284.7 2302.8,1293.1 2320.6,1301.7 2338.2,1310.8 2355.6,1320.2 2372.9,1330 2389.9,1340.1 2406.8,1350.5 2423.4,1361.3 2439.8,1372.5 2456,1383.9 2472,1395.7 2487.7,1407.8 2503.1,1420.2 2518.4,1433 2533.3,1446 2548,1459.4 2562.4,1473 2576.6,1487 2590.4,1501.2 2604,1515.7 2617.3,1530.5 2630.3,1545.5 2643,1560.8 2655.4,1576.4 2667.4,1592.2 2679.2,1608.3 2690.6,1624.6 2701.7,1641.1 2712.4,1657.9 2722.8,1674.9 2732.9,1692 2742.6,1709.4 2752,1727 2761,1744.8 2769.7,1762.8 2778,1780.9 2785.9,1799.2 2793.5,1817.7 2800.7,1836.3 2807.5,1855.1 2813.9,1874 2820,1893.1 2825.6,1912.2 2830.9,1931.5 2835.8,1950.9 2840.3,1970.4 2760.3,1986.7 2757.9,1968.4 2755.2,1950.2 2752,1932 2748.3,1913.8 2744.3,1895.7 2739.8,1877.7 2734.9,1859.8 2729.6,1842 2723.9,1824.3 2717.8,1806.7 2711.3,1789.2 2704.4,1771.9 2697.1,1754.7 2689.4,1737.6 2681.2,1720.7 2672.7,1704 2663.9,1687.5 2654.6,1671.2 2645,1655 2634.9,1639.1 2624.6,1623.4 2613.8,1608 2602.7,1592.8 2591.3,1577.8 2579.5,1563.1 2567.4,1548.6 2555,1534.4 2542.2,1520.5 2529.1,1506.9 2515.7,1493.6 2502,1480.6 2488,1467.8 2473.7,1455.5 2459.2,1443.4 2444.3,1431.7 2429.3,1420.3 2413.9,1409.2 2398.3,1398.5 2382.5,1388.2 2366.4,1378.2 2350.1,1368.6 2333.7,1359.4 2317,1350.5 2300.1,1342 2283,1333.9 2265.8,1326.3 2248.4,1319 2230.8,1312 2213.1,1305.6 2195.3,1299.5 2177.3,1293.8 2159.3,1288.5 2141.1,1283.6 2122.8,1279.2 2104.5,1275.2 2086.1,1271.6 2067.6,1268.4 2049,1265.6 2030.5,1263.3 2011.8,1261.4 1993.2,1259.9 1974.6,1258.9 1955.9,1258.2 1937.3,1258 1918.7,1258.2 1900.1,1258.9 1881.6,1259.9 1863.1,1261.4 1844.7,1263.3 1826.3,1265.6 1808.1,1268.4 1789.9,1271.5 1771.8,1275.1 1753.9,1279 1736,1283.4 1718.3,1288.2 1700.8,1293.3 1683.3,1298.9 1666.1,1304.8 1649,1311.1 1632.1,1317.8 1615.4,1324.9 1598.9,1332.3 1582.6,1340.1 1566.5,1348.3 1550.7,1356.8 1535,1365.6 1519.6,1374.8 1504.5,1384.3"/><polyline fill="none" stroke="#a6a7a9" stroke-width="7.5" points="1462.2,1296.7 1480.1,1288.4 1498.1,1280.5 1516.3,1272.9 1534.7,1265.7 1553.2,1258.9 1571.8,1252.4 1590.5,1246.3 1609.4,1240.6 1628.4,1235.3 1647.5,1230.4 1666.6,1225.8 1685.9,1221.7 1705.2,1217.9 1724.6,1214.5 1744.1,1211.5 1763.7,1208.9 1783.2,1206.7 1802.9,1204.9 1822.5,1203.5 1842.2,1202.5 1861.9,1201.9 1881.6,1201.7 1901.3,1201.9 1921,1202.5 1940.7,1203.5 1960.3,1204.9 1979.9,1206.7 1999.5,1208.8 2019.1,1211.4 2038.5,1214.4 2058,1217.7 2077.3,1221.5 2096.6,1225.6 2115.8,1230.2 2134.8,1235.1 2153.8,1240.4 2172.7,1246.1 2191.5,1252.2 2210.1,1258.6 2228.6,1265.4 2247,1272.6 2265.2,1280.2 2283.3,1288.1 2301.2,1296.4 2318.9,1305.1 2336.4,1314.1 2353.8,1323.5 2371,1333.2 2388,1343.3 2404.7,1353.7 2421.3,1364.4 2437.7,1375.5 2453.8,1386.9 2469.7,1398.7 2485.3,1410.7 2500.7,1423.1 2515.9,1435.8 2530.8,1448.8 2545.4,1462.1 2559.8,1475.7 2573.9,1489.6 2587.7,1503.8 2601.2,1518.2 2614.5,1532.9 2627.4,1547.9 2640,1563.2 2652.4,1578.7 2664.4,1594.4 2676.1,1610.4 2687.5,1626.7 2698.5,1643.1 2709.2,1659.8 2719.6,1676.7 2729.6,1693.9 2739.3,1711.2 2748.7,1728.7 2757.6,1746.4 2766.3,1764.3 2774.5,1782.4 2782.4,1800.6 2790,1819 2797.1,1837.6 2803.9,1856.3 2810.3,1875.1 2816.4,1894.1 2822,1913.2 2827.3,1932.4 2832.1,1951.8 2836.6,1971.2"/><polygon fill="#e3e4e6" points="1540.2,1458.3 1553.4,1448.5 1566.8,1439 1580.5,1429.7 1594.5,1420.8 1608.8,1412.3 1623.2,1404 1638,1396.1 1652.9,1388.5 1668.1,1381.3 1683.5,1374.4 1699.1,1367.9 1714.9,1361.7 1730.9,1355.9 1747.1,1350.5 1763.4,1345.5 1779.9,1340.8 1796.6,1336.6 1813.3,1332.7 1830.2,1329.3 1847.2,1326.2 1864.4,1323.6 1881.6,1321.3 1898.9,1319.5 1916.2,1318 1933.7,1317 1951.2,1316.5 1968.7,1316.3 1986.2,1316.5 2003.8,1317.2 2021.4,1318.3 2038.9,1319.8 2056.5,1321.7 2074,1324.1 2091.5,1326.9 2109,1330.1 2126.4,1333.7 2143.7,1337.7 2160.9,1342.2 2178,1347 2195.1,1352.3 2212,1358 2228.8,1364.1 2245.5,1370.6 2262,1377.4 2278.4,1384.7 2294.6,1392.4 2310.6,1400.5 2326.4,1408.9 2342.1,1417.7 2357.5,1426.9 2372.7,1436.5 2387.7,1446.4 2402.5,1456.7 2417,1467.3 2431.2,1478.3 2445.2,1489.6 2459,1501.2 2472.4,1513.2 2485.6,1525.5 2498.5,1538 2511,1550.9 2523.3,1564.1 2535.2,1577.5 2546.8,1591.2 2558.1,1605.2 2569,1619.5 2579.6,1634 2589.9,1648.7 2599.8,1663.7 2609.3,1678.9 2618.4,1694.3 2627.2,1709.9 2635.6,1725.6 2643.6,1741.6 2651.3,1757.8 2658.5,1774.1 2665.3,1790.5 2671.8,1807.1 2677.8,1823.8 2683.4,1840.7 2688.7,1857.6 2693.5,1874.6 2697.9,1891.8 2701.8,1909 2705.4,1926.2 2708.5,1943.6 2711.3,1960.9 2713.6,1978.3 2715.4,1995.8 2659,2007.2 2657.6,1990.9 2655.7,1974.6 2653.4,1958.3 2650.8,1942.1 2647.7,1925.9 2644.3,1909.7 2640.4,1893.6 2636.2,1877.6 2631.6,1861.6 2626.6,1845.7 2621.2,1830 2615.4,1814.3 2609.3,1798.8 2602.8,1783.4 2595.9,1768.1 2588.6,1753 2581,1738.1 2573,1723.3 2564.7,1708.7 2556,1694.2 2546.9,1680 2537.6,1666 2527.8,1652.2 2517.8,1638.6 2507.4,1625.2 2496.7,1612.1 2485.7,1599.2 2474.4,1586.6 2462.8,1574.3 2450.9,1562.2 2438.7,1550.4 2426.2,1538.9 2413.5,1527.7 2400.5,1516.7 2387.2,1506.1 2373.7,1495.8 2359.9,1485.9 2345.9,1476.2 2331.7,1466.9 2317.3,1457.9 2302.7,1449.3 2287.8,1441 2272.8,1433 2257.6,1425.5 2242.3,1418.3 2226.8,1411.4 2211.1,1404.9 2195.3,1398.8 2179.3,1393.1 2163.3,1387.8 2147.1,1382.8 2130.8,1378.2 2114.5,1374 2098,1370.2 2081.5,1366.8 2064.9,1363.8 2048.3,1361.2 2031.6,1359 2014.9,1357.2 1998.2,1355.8 1981.5,1354.7 1964.8,1354.1 1948.1,1353.9 1931.4,1354 1914.7,1354.6 1898.1,1355.6 1881.6,1356.9 1865.1,1358.7 1848.7,1360.8 1832.3,1363.3 1816.1,1366.2 1799.9,1369.5 1783.9,1373.1 1768,1377.2 1752.2,1381.6 1736.6,1386.3 1721.1,1391.5 1705.8,1396.9 1690.6,1402.8 1675.7,1409 1660.9,1415.5 1646.3,1422.4 1631.9,1429.6 1617.8,1437.1 1603.8,1445 1590.1,1453.1 1576.6,1461.6 1563.4,1470.3 1550.4,1479.4"/><polyline fill="none" stroke="#a6a7a9" stroke-width="7.5" points="1541.9,1461.7 1554.9,1451.9 1568.3,1442.4 1582,1433.2 1595.9,1424.3 1610,1415.8 1624.4,1407.6 1639.1,1399.7 1654,1392.1 1669.1,1384.9 1684.4,1378 1700,1371.5 1715.7,1365.4 1731.6,1359.6 1747.7,1354.2 1764,1349.2 1780.4,1344.6 1796.9,1340.3 1813.6,1336.5 1830.5,1333 1847.4,1330 1864.4,1327.3 1881.6,1325.1 1898.8,1323.2 1916.1,1321.8 1933.4,1320.8 1950.8,1320.2 1968.3,1320 1985.8,1320.3 2003.3,1320.9 2020.8,1322 2038.3,1323.5 2055.7,1325.4 2073.2,1327.7 2090.6,1330.5 2108,1333.7 2125.3,1337.3 2142.5,1341.3 2159.7,1345.7 2176.8,1350.6 2193.7,1355.8 2210.6,1361.5 2227.3,1367.5 2243.9,1374 2260.4,1380.8 2276.7,1388.1 2292.8,1395.7 2308.7,1403.7 2324.5,1412.1 2340.1,1420.9 2355.5,1430.1 2370.6,1439.6 2385.5,1449.5 2400.2,1459.7 2414.7,1470.3 2428.9,1481.2 2442.8,1492.5 2456.5,1504.1 2469.9,1516 2483,1528.2 2495.8,1540.7 2508.3,1553.5 2520.5,1566.6 2532.4,1580 2544,1593.7 2555.2,1607.6 2566.1,1621.8 2576.6,1636.3 2586.8,1650.9 2596.7,1665.8 2606.2,1680.9 2615.3,1696.3 2624,1711.8 2632.4,1727.5 2640.4,1743.4 2647.9,1759.5 2655.1,1775.7 2661.9,1792.1 2668.4,1808.6 2674.4,1825.3 2680,1842.1 2685.1,1858.9 2689.9,1875.9 2694.3,1893 2698.3,1910.1 2701.8,1927.3 2704.9,1944.5 2707.6,1961.8 2709.9,1979.2 2711.8,1996.5"/><polygon fill="#e3e4e6" points="1561.9,1503.2 1574.6,1494.9 1587.6,1486.8 1600.7,1479 1614.1,1471.6 1627.6,1464.4 1641.4,1457.5 1655.4,1450.9 1669.5,1444.7 1683.8,1438.8 1698.3,1433.2 1712.9,1427.9 1727.7,1423 1742.6,1418.5 1757.6,1414.2 1772.8,1410.3 1788.1,1406.8 1803.4,1403.6 1818.9,1400.8 1834.5,1398.3 1850.1,1396.2 1865.8,1394.5 1881.6,1393.1 1897.4,1392.2 1913.2,1391.5 1929.1,1391.3 1945,1391.4 1960.9,1391.9 1976.8,1392.7 1992.7,1393.9 2008.6,1395.5 2024.5,1397.5 2040.3,1399.9 2056.1,1402.6 2071.8,1405.7 2087.4,1409.1 2103,1412.9 2118.5,1417.1 2133.9,1421.7 2149.2,1426.6 2164.4,1431.8 2179.5,1437.4 2194.4,1443.4 2209.2,1449.7 2223.9,1456.4 2238.4,1463.4 2252.7,1470.7 2266.8,1478.4 2280.8,1486.4 2294.6,1494.7 2308.2,1503.3 2321.6,1512.3 2334.8,1521.5 2347.7,1531.1 2360.4,1541 2372.9,1551.1 2385.2,1561.5 2397.2,1572.2 2408.9,1583.2 2420.4,1594.5 2431.6,1606 2442.5,1617.7 2453.1,1629.7 2463.5,1641.9 2473.5,1654.4 2483.3,1667.1 2492.8,1680 2501.9,1693.1 2510.7,1706.4 2519.2,1719.9 2527.4,1733.5 2535.2,1747.4 2542.7,1761.4 2549.9,1775.6 2556.7,1789.9 2563.2,1804.3 2569.4,1818.9 2575.2,1833.6 2580.6,1848.4 2585.7,1863.3 2590.4,1878.3 2594.7,1893.3 2598.7,1908.5 2602.4,1923.7 2605.6,1939 2608.5,1954.3 2611.1,1969.6 2613.2,1985 2615,2000.4 2616.5,2015.8 2546.5,2030 2545.4,2016 2544.1,2002 2542.4,1988 2540.3,1974 2538,1960.1 2535.3,1946.1 2532.3,1932.2 2528.9,1918.4 2525.2,1904.6 2521.2,1890.9 2516.9,1877.2 2512.2,1863.6 2507.3,1850.1 2502,1836.7 2496.4,1823.4 2490.4,1810.2 2484.2,1797.1 2477.6,1784.2 2470.8,1771.4 2463.6,1758.7 2456.1,1746.2 2448.3,1733.8 2440.3,1721.6 2431.9,1709.6 2423.3,1697.7 2414.4,1686.1 2405.2,1674.6 2395.7,1663.3 2386,1652.3 2376,1641.4 2365.7,1630.8 2355.2,1620.4 2344.5,1610.3 2333.5,1600.4 2322.3,1590.7 2310.8,1581.3 2299.1,1572.1 2287.3,1563.2 2275.2,1554.6 2262.9,1546.2 2250.4,1538.1 2237.7,1530.3 2224.8,1522.8 2211.8,1515.6 2198.6,1508.7 2185.2,1502.1 2171.7,1495.8 2158,1489.8 2144.2,1484.1 2130.3,1478.7 2116.2,1473.7 2102.1,1468.9 2087.8,1464.5 2073.4,1460.4 2059,1456.7 2044.4,1453.3 2029.8,1450.2 2015.2,1447.4 2000.4,1445 1985.6,1443 1970.8,1441.2 1956,1439.8 1941.1,1438.8 1926.2,1438 1911.3,1437.7 1896.4,1437.6 1881.6,1437.9 1866.7,1438.6 1851.9,1439.6 1837.1,1440.9 1822.3,1442.6 1807.6,1444.6 1793,1446.9 1778.4,1449.6 1763.9,1452.5 1749.5,1455.9 1735.2,1459.5 1721,1463.5 1706.9,1467.8 1692.9,1472.4 1679.1,1477.3 1665.4,1482.5 1651.8,1488.1 1638.4,1493.9 1625.1,1500.1 1612,1506.5 1599,1513.2 1586.3,1520.3 1573.7,1527.6"/><polyline fill="none" stroke="#a6a7a9" stroke-width="7.5" points="1563.6,1506.6 1576.2,1498.3 1589.1,1490.3 1602.1,1482.5 1615.4,1475.1 1628.9,1467.9 1642.6,1461.1 1656.5,1454.5 1670.5,1448.3 1684.8,1442.4 1699.2,1436.8 1713.7,1431.6 1728.4,1426.7 1743.3,1422.1 1758.2,1417.9 1773.3,1414 1788.5,1410.5 1803.8,1407.4 1819.2,1404.5 1834.7,1402.1 1850.3,1400 1865.9,1398.3 1881.6,1396.9 1897.3,1395.9 1913.1,1395.3 1928.9,1395 1944.7,1395.1 1960.5,1395.6 1976.4,1396.4 1992.2,1397.7 2008,1399.2 2023.8,1401.2 2039.5,1403.5 2055.2,1406.2 2070.9,1409.3 2086.4,1412.7 2101.9,1416.5 2117.4,1420.7 2132.7,1425.2 2147.9,1430.1 2163,1435.3 2178,1440.9 2192.9,1446.8 2207.6,1453.1 2222.2,1459.8 2236.7,1466.7 2250.9,1474 2265,1481.6 2278.9,1489.6 2292.6,1497.9 2306.2,1506.5 2319.5,1515.4 2332.6,1524.6 2345.5,1534.1 2358.2,1543.9 2370.6,1554 2382.8,1564.4 2394.7,1575.1 2406.4,1586 2417.8,1597.2 2428.9,1608.6 2439.8,1620.3 2450.4,1632.3 2460.7,1644.5 2470.7,1656.9 2480.4,1669.5 2489.8,1682.3 2498.9,1695.4 2507.7,1708.6 2516.1,1722 2524.3,1735.6 2532.1,1749.4 2539.5,1763.3 2546.7,1777.4 2553.5,1791.7 2559.9,1806.1 2566,1820.6 2571.8,1835.2 2577.2,1849.9 2582.2,1864.7 2586.9,1879.7 2591.2,1894.7 2595.2,1909.8 2598.8,1924.9 2602.1,1940.1 2604.9,1955.3 2607.5,1970.6 2609.6,1985.9 2611.4,2001.2 2612.8,2016.6"/><polygon fill="#e3e4e6" points="1559.3,1497.8 1574.1,1493.7 1588.9,1489.9 1603.7,1486.3 1618.5,1483 1633.3,1480.1 1648.1,1477.4 1663,1474.9 1677.8,1472.8 1692.5,1470.9 1707.3,1469.3 1722.1,1468 1736.8,1467 1751.5,1466.2 1766.1,1465.7 1780.7,1465.4 1795.3,1465.5 1809.8,1465.7 1824.3,1466.3 1838.7,1467.1 1853,1468.1 1867.3,1469.4 1881.6,1471 1895.7,1472.8 1909.8,1474.9 1923.8,1477.2 1937.7,1479.7 1951.6,1482.5 1965.4,1485.5 1979,1488.8 1992.6,1492.3 2006.1,1496 2019.5,1500 2032.8,1504.2 2046,1508.6 2059,1513.3 2072,1518.1 2084.9,1523.2 2097.6,1528.5 2110.2,1534 2122.7,1539.7 2135.1,1545.7 2147.4,1551.8 2159.5,1558.1 2171.5,1564.7 2183.4,1571.4 2195.1,1578.4 2206.7,1585.5 2218.1,1592.9 2229.5,1600.4 2240.6,1608.1 2251.6,1616 2262.5,1624.1 2273.2,1632.4 2283.8,1640.8 2294.2,1649.4 2304.4,1658.2 2314.5,1667.2 2324.4,1676.4 2334.2,1685.7 2343.8,1695.2 2353.2,1704.8 2362.5,1714.6 2371.5,1724.6 2380.4,1734.7 2389.2,1744.9 2397.7,1755.4 2406.1,1765.9 2414.3,1776.7 2422.2,1787.5 2430,1798.5 2437.7,1809.7 2445.1,1821 2452.3,1832.4 2459.3,1843.9 2466.2,1855.6 2472.8,1867.4 2479.2,1879.4 2485.5,1891.4 2491.5,1903.6 2497.3,1915.9 2502.9,1928.3 2508.3,1940.8 2513.5,1953.4 2518.5,1966.2 2523.2,1979 2527.7,1991.9 2532,2005 2536.1,2018.1 2540,2031.3 2127,2115 2140.5,2106.8 2153.4,2098 2165.7,2088.8 2177.5,2079.1 2188.7,2069 2199.3,2058.5 2209.3,2047.7 2218.7,2036.5 2227.5,2024.9 2235.7,2013.1 2243.2,2001.1 2250.1,1988.8 2256.4,1976.3 2262.1,1963.6 2267.1,1950.7 2271.4,1937.7 2275.2,1924.6 2278.2,1911.5 2280.7,1898.3 2282.5,1885 2283.7,1871.8 2284.3,1858.5 2284.2,1845.4 2283.6,1832.3 2282.3,1819.3 2280.4,1806.4 2278,1793.7 2274.9,1781.1 2271.3,1768.8 2267.2,1756.6 2262.5,1744.7 2257.3,1733 2251.5,1721.6 2245.2,1710.6 2238.5,1699.8 2231.3,1689.4 2223.6,1679.3 2215.5,1669.6 2206.9,1660.3 2198,1651.4 2188.7,1642.9 2179,1634.9 2168.9,1627.3 2158.6,1620.2 2147.9,1613.6 2136.9,1607.4 2125.7,1601.8 2114.2,1596.7 2102.5,1592.1 2090.7,1588 2078.6,1584.5 2066.4,1581.5 2054.1,1579.1 2041.6,1577.2 2029.1,1575.9 2016.5,1575.2 2003.9,1575 1991.3,1575.4 1978.7,1576.4 1966.2,1578 1953.7,1580.1 1941.3,1582.8 1929,1586.1 1916.9,1589.9 1904.9,1594.3 1893.1,1599.3 1881.5,1604.8 1870.2,1610.9 1859.1,1617.5 1848.4,1624.6 1837.9,1632.3 1827.7,1640.4 1817.9,1649.1 1808.5,1658.2 1799.5,1667.9 1790.9,1677.9 1782.7,1688.5 1775,1699.4 1767.8,1710.8 1761.1,1722.5 1754.9,1734.7 1749.2,1747.2 1744.1,1760 1739.6,1773.2 1735.6,1786.7 1732.3,1800.4 1729.6,1814.4 1727.5,1828.7 1726.1,1843.1"/><polyline fill="none" stroke="#a6a7a9" stroke-width="7.5" points="1560.9,1501.2 1575.7,1497.1 1590.4,1493.3 1605.1,1489.8 1619.9,1486.5 1634.6,1483.6 1649.3,1480.9 1664.1,1478.5 1678.8,1476.4 1693.5,1474.5 1708.2,1473 1722.9,1471.7 1737.5,1470.6 1752.1,1469.9 1766.7,1469.4 1781.2,1469.1 1795.7,1469.2 1810.2,1469.5 1824.6,1470 1838.9,1470.8 1853.2,1471.9 1867.4,1473.2 1881.6,1474.8 1895.6,1476.6 1909.6,1478.6 1923.6,1480.9 1937.4,1483.5 1951.2,1486.3 1964.9,1489.3 1978.5,1492.5 1992,1496 2005.4,1499.7 2018.7,1503.7 2031.9,1507.9 2045.1,1512.3 2058.1,1516.9 2071,1521.7 2083.7,1526.8 2096.4,1532 2109,1537.5 2121.4,1543.2 2133.7,1549.1 2145.9,1555.2 2158,1561.6 2169.9,1568.1 2181.7,1574.8 2193.3,1581.7 2204.9,1588.8 2216.2,1596.1 2227.5,1603.6 2238.6,1611.3 2249.5,1619.1 2260.3,1627.2 2271,1635.4 2281.5,1643.8 2291.8,1652.4 2302,1661.1 2312.1,1670 2321.9,1679.1 2331.6,1688.4 2341.2,1697.8 2350.5,1707.4 2359.7,1717.2 2368.8,1727.1 2377.6,1737.1 2386.3,1747.3 2394.8,1757.7 2403.1,1768.2 2411.2,1778.9 2419.2,1789.7 2426.9,1800.6 2434.5,1811.7 2441.9,1822.9 2449.1,1834.3 2456.1,1845.8 2462.9,1857.4 2469.5,1869.1 2475.9,1881 2482.1,1893 2488.1,1905.1 2493.8,1917.3 2499.4,1929.6 2504.8,1942.1 2509.9,1954.6 2514.9,1967.3 2519.6,1980 2524.1,1992.9 2528.4,2005.9 2532.5,2018.9 2536.3,2032.1"/></g><path fill="#e8e8e8" transform="translate(842.5,34.5)" d="M-27.5,0 L0,15.5 L27.5,0 L27.5,12.5 L8.8,24.5 L11.5,80.3 L75.5,50 L75.5,65.3 L11.5,108.8 L12,155 Q12,166.5 0,166.5 Q-12,166.5 -12,155 L-11.5,108.8 L-75.5,65.3 L-75.5,50 L-11.5,80.3 L-8.8,24.5 L-27.5,12.5 Z"/><path fill="#e8e8e8" transform="translate(1152.4,140.5)" d="M-27.5,0 L0,15.5 L27.5,0 L27.5,12.5 L8.8,24.5 L11.5,80.3 L75.5,50 L75.5,65.3 L11.5,108.8 L12,155 Q12,166.5 0,166.5 Q-12,166.5 -12,155 L-11.5,108.8 L-75.5,65.3 L-75.5,50 L-11.5,80.3 L-8.8,24.5 L-27.5,12.5 Z"/><path fill="#e8e8e8" transform="translate(1379.4,149.5)" d="M-27.5,0 L0,15.5 L27.5,0 L27.5,12.5 L8.8,24.5 L11.5,80.3 L75.5,50 L75.5,65.3 L11.5,108.8 L12,155 Q12,166.5 0,166.5 Q-12,166.5 -12,155 L-11.5,108.8 L-75.5,65.3 L-75.5,50 L-11.5,80.3 L-8.8,24.5 L-27.5,12.5 Z"/><path fill="#e8e8e8" transform="translate(1696.5,133)" d="M-27.5,0 L0,15.5 L27.5,0 L27.5,12.5 L8.8,24.5 L11.5,80.3 L75.5,50 L75.5,65.3 L11.5,108.8 L12,155 Q12,166.5 0,166.5 Q-12,166.5 -12,155 L-11.5,108.8 L-75.5,65.3 L-75.5,50 L-11.5,80.3 L-8.8,24.5 L-27.5,12.5 Z"/><path fill="#e8e8e8" transform="translate(3218.6,226) rotate(90)" d="M-27.5,0 L0,15.5 L27.5,0 L27.5,12.5 L8.8,24.5 L11.5,80.3 L75.5,50 L75.5,65.3 L11.5,108.8 L12,155 Q12,166.5 0,166.5 Q-12,166.5 -12,155 L-11.5,108.8 L-75.5,65.3 L-75.5,50 L-11.5,80.3 L-8.8,24.5 L-27.5,12.5 Z"/><polygon fill="#e9e9ea" points="0,0 28,0 34,22 24,44 20,42 0,8"/><polygon fill="#e9e9ea" points="81.5,0 101.7,0 102.5,14.4 90.8,14.4"/><text stroke="#929393" stroke-width="1" x="810.9" y="298.4" font-family="Liberation Sans" font-size="54.5" font-weight="normal" fill="#929393" text-anchor="start" textLength="57.3" lengthAdjust="spacingAndGlyphs">23</text><text stroke="#929393" stroke-width="1" x="1125.8" y="410.4" font-family="Liberation Sans" font-size="54.5" font-weight="normal" fill="#929393" text-anchor="start" textLength="57.2" lengthAdjust="spacingAndGlyphs">22</text><text stroke="#929393" stroke-width="1" x="1669.4" y="414.3" font-family="Liberation Sans" font-size="54.5" font-weight="normal" fill="#929393" text-anchor="start" textLength="57.4" lengthAdjust="spacingAndGlyphs">20</text><text stroke="#929393" stroke-width="1" x="1352.6" y="415.6" font-family="Liberation Sans" font-size="54.5" font-weight="normal" fill="#929393" text-anchor="start" textLength="26.5" lengthAdjust="spacingAndGlyphs">2</text><path fill="#929393" d="M1393.6,380.2 H1399.3 V415.6 H1393.6 V387.6 L1388.4,391.2 L1385.4,387.2 Z"/><path fill="#929393" d="M2997.3,228.2 H3003.6 V264.2 H2997.3 V235.6 L2992.6,239.2 L2989.6,235.2 Z"/><text stroke="#545557" stroke-width="0.5" x="2173.6" y="347.3" font-family="Liberation Sans" font-size="29" font-weight="normal" fill="#545557" text-anchor="start" textLength="113.6" lengthAdjust="spacingAndGlyphs">Security</text><text stroke="#545557" stroke-width="0.5" x="2153" y="378.8" font-family="Liberation Sans" font-size="29" font-weight="normal" fill="#545557" text-anchor="start" textLength="164.6" lengthAdjust="spacingAndGlyphs">Checkpoint</text><text stroke="#545557" stroke-width="0.5" x="2043.8" y="544.7" font-family="Liberation Sans" font-size="30" font-weight="normal" fill="#545557" text-anchor="start" textLength="170.4" lengthAdjust="spacingAndGlyphs">Departures/</text><text stroke="#545557" stroke-width="0.5" x="2071" y="575.6" font-family="Liberation Sans" font-size="30" font-weight="normal" fill="#545557" text-anchor="start" textLength="123.3" lengthAdjust="spacingAndGlyphs">Check-in</text><text stroke="#545557" stroke-width="0.5" x="1916" y="1040" font-family="Liberation Sans" font-size="47" font-weight="normal" fill="#545557" text-anchor="start" textLength="221.8" lengthAdjust="spacingAndGlyphs">Terminal 1</text><text stroke="#545557" stroke-width="0.5" x="527" y="1055.1" font-family="Liberation Sans" font-size="48" font-weight="normal" fill="#545557" text-anchor="start" textLength="220" lengthAdjust="spacingAndGlyphs">Terminal 2</text><polygon fill="#8cc954" points="2451,371.6 2475.3,371.6 2475.3,400.2 2486.7,400.2 2463.2,425 2439.8,400.2 2451,400.2"/>
<g transform="translate(2056.9,312.5)"><circle cx="0" cy="2" r="38.2" fill="#000" opacity="0.12" filter="url(#blur)"/><circle r="38.2" fill="#d926d0"/><g fill="none" stroke="#fff" stroke-width="1.7" stroke-linejoin="round" stroke-linecap="round"><circle cx="0" cy="-14.6" r="6.6"/><path d="M-5,-7.5 H5 L15,3.5 Q16.2,5.5 14.5,7 Q12.8,8.3 11.2,6.8 L6.5,2 M-5,-7.5 L-15,3.5 Q-16.2,5.5 -14.5,7 Q-12.8,8.3 -11.2,6.8 L-6.5,2"/><path d="M-6.5,10.5 L-13.2,16.3 Q-14.3,17.4 -13.2,18.5 L-4.6,25.8 Q-3.3,26.8 -2.1,25.6 L-1.2,24.5 L-8.6,17.4 L-3.6,13.4 M6.5,10.5 L13.2,16.3 Q14.3,17.4 13.2,18.5 L4.6,25.8 Q3.3,26.8 2.1,25.6 L1.2,24.5 L8.6,17.4 L3.6,13.4"/></g><path fill="#fff" d="M-7.5,4.3 H7.5 L5.5,11.2 Q3,12.8 0,12.8 Q-3,12.8 -5.5,11.2 Z"/></g><g transform="translate(2028.3,235.7)"><rect x="0" y="2.5" width="60" height="60" rx="6" fill="#000" opacity="0.18" filter="url(#blur)"/><rect width="60" height="60" rx="6" fill="#000"/><circle cx="18.6" cy="15" r="2.9" fill="#fff"/><circle cx="42.9" cy="14.8" r="2.9" fill="#fff"/><path fill="#fff" d="M14.2,19 H23 Q24.3,19 24.8,20.3 L27.3,30.8 L26,31.5 L23.8,24.5 L26.5,36.2 H21.8 V48.1 H19.4 V36.2 H18 V48.1 H15.6 V36.2 H10.9 L13.6,24.5 L11.4,31.5 L10.1,30.8 L12.6,20.3 Q13,19 14.2,19 Z"/><rect x="29.7" y="12.1" width="2.8" height="36" fill="#fff"/><path fill="#fff" d="M37.5,19 H48.5 Q50,19 50,20.5 V32.5 H48.3 V23.5 H47.2 V48.1 H43.6 V33.3 H42.2 V48.1 H38.7 V23.5 H37.6 V32.5 H35.9 V20.5 Q35.9,19 37.5,19 Z"/></g><g transform="translate(2193.5,715.5)"><circle cx="0" cy="2" r="38.2" fill="#000" opacity="0.12" filter="url(#blur)"/><circle r="38.2" fill="#0b7bc8"/><path fill="#fff" d="M-22.9,-8 L-11,-14.4 V-2 L-5,-2 V12 H-2.3 V17.9 H-19.5 Q-22.9,17.9 -22.9,14.5 Z"/><path fill="#0b7bc8" d="M-8.5,-7.8 H-6.5 V5.5 L-12.5,6 Z M-18.5,12 H-5.5 V14.2 H-18.5 Z"/><rect x="2" y="-13.7" width="19.5" height="31.6" fill="#fff"/><g stroke="#fff" stroke-width="2.6" stroke-linecap="round"><path d="M11.7,-15 L11.7,-22.5 M11.7,-15 L6.5,-20.5 M11.7,-15 L16.9,-20.5 M11.7,-15 L4.5,-16.5 M11.7,-15 L18.9,-16.5"/></g><g fill="#0b7bc8"><rect x="5.9" y="-10.5" width="3.5" height="4.6"/><rect x="13.7" y="-10.5" width="3.5" height="4.6"/><rect x="5.9" y="-1.2" width="3.5" height="15.6"/><rect x="13.7" y="-1.2" width="3.5" height="15.6"/></g></g><g transform="translate(2451,495)"><rect x="0" y="2.5" width="60" height="60" rx="6" fill="#000" opacity="0.18" filter="url(#blur)"/><rect width="60" height="60" rx="6" fill="#000"/><rect x="25.8" y="14.6" width="8.6" height="7" rx="1" fill="none" stroke="#fff" stroke-width="2"/><rect x="10.8" y="20" width="39.2" height="26.5" rx="3.5" fill="#fff"/><rect x="16.7" y="20" width="1.6" height="26.5" fill="#000"/><rect x="42.6" y="20" width="1.6" height="26.5" fill="#000"/></g><g transform="translate(2451.4,648)"><rect x="0" y="2.5" width="60" height="60" rx="6" fill="#000" opacity="0.18" filter="url(#blur)"/><rect width="60" height="60" rx="6" fill="#000"/><path d="M23,24 V13 M18.5,17.5 L23,12.5 L27.5,17.5 M37,12.5 V23.5 M32.5,19 L37,24 L41.5,19" stroke="#fff" stroke-width="2.4" fill="none"/><rect x="19" y="27" width="22.5" height="21.5" rx="1.5" fill="none" stroke="#fff" stroke-width="2.4"/><g fill="#fff"><circle cx="24.5" cy="32.5" r="1.5"/><circle cx="30.2" cy="32.5" r="1.5"/><circle cx="35.9" cy="32.5" r="1.5"/><rect x="22.8" y="34.5" width="3.4" height="10"/><rect x="28.5" y="34.5" width="3.4" height="10"/><rect x="34.2" y="34.5" width="3.4" height="10"/></g></g><g transform="translate(2526.7,650.4)"><rect x="0" y="2.5" width="60" height="60" rx="6" fill="#000" opacity="0.18" filter="url(#blur)"/><rect width="60" height="60" rx="6" fill="#000"/><text x="26" y="25" font-family="Liberation Sans" font-weight="bold" font-size="17" fill="#fff" text-anchor="middle">?</text><path fill="#fff" d="M11.8,31.3 L38.3,24.6 L38.3,37.9 Z"/><path d="M39,31.5 Q45.5,28.5 45.5,33 Q45.5,36.5 41.5,35.5" stroke="#fff" stroke-width="2" fill="none"/><g fill="#fff"><rect x="17" y="38.5" width="21" height="2"/><rect x="17" y="41.8" width="21" height="2"/><rect x="17" y="45" width="21" height="2"/><rect x="17" y="48" width="21" height="1.6"/></g><path fill="#fff" d="M30,35 L38.3,37.9 L38.3,49.5 L34,49.5 Z"/></g><g transform="translate(1508.3,943.2)"><rect x="0" y="2.5" width="60" height="60" rx="6" fill="#000" opacity="0.18" filter="url(#blur)"/><rect width="60" height="60" rx="6" fill="#000"/><rect x="25.8" y="14.6" width="8.6" height="7" rx="1" fill="none" stroke="#fff" stroke-width="2"/><rect x="10.8" y="20" width="39.2" height="26.5" rx="3.5" fill="#fff"/><rect x="16.7" y="20" width="1.6" height="26.5" fill="#000"/><rect x="42.6" y="20" width="1.6" height="26.5" fill="#000"/></g><g transform="translate(1914.8,860.9)"><rect x="0" y="2.5" width="60" height="60" rx="6" fill="#000" opacity="0.18" filter="url(#blur)"/><rect width="60" height="60" rx="6" fill="#000"/><path fill="#fff" d="M30,17 C27,12.2 20,11.3 15,14.3 C9.8,17.5 9.3,25 13,29.2 L30,50 L47,29.2 C50.7,25 50.2,17.5 45,14.3 C40,11.3 33,12.2 30,17 Z"/><path fill="#000" d="M37,19.7 L31.4,19.7 L24.4,29.3 L31,29.3 L25.5,37 L30.8,37 L26.5,45.5 L37,34.8 L31.8,34.8 L36.5,28.3 L30.8,28.3 Z"/></g><g transform="translate(2240,985)"><rect x="0" y="2.5" width="60" height="60" rx="6" fill="#000" opacity="0.18" filter="url(#blur)"/><rect width="60" height="60" rx="6" fill="#000"/><text x="30" y="42" font-family="Liberation Sans" font-weight="bold" font-size="30" fill="#fff" text-anchor="middle" textLength="40" lengthAdjust="spacingAndGlyphs">($)</text></g><g transform="translate(2258.1,944.3)"><rect x="0" y="2.5" width="60" height="60" rx="6" fill="#000" opacity="0.18" filter="url(#blur)"/><rect width="60" height="60" rx="6" fill="#000"/><circle cx="18.6" cy="15" r="2.9" fill="#fff"/><circle cx="42.9" cy="14.8" r="2.9" fill="#fff"/><path fill="#fff" d="M14.2,19 H23 Q24.3,19 24.8,20.3 L27.3,30.8 L26,31.5 L23.8,24.5 L26.5,36.2 H21.8 V48.1 H19.4 V36.2 H18 V48.1 H15.6 V36.2 H10.9 L13.6,24.5 L11.4,31.5 L10.1,30.8 L12.6,20.3 Q13,19 14.2,19 Z"/><rect x="29.7" y="12.1" width="2.8" height="36" fill="#fff"/><path fill="#fff" d="M37.5,19 H48.5 Q50,19 50,20.5 V32.5 H48.3 V23.5 H47.2 V48.1 H43.6 V33.3 H42.2 V48.1 H38.7 V23.5 H37.6 V32.5 H35.9 V20.5 Q35.9,19 37.5,19 Z"/></g><g transform="translate(2224,1022.9)"><rect x="0" y="2.5" width="60" height="60" rx="6" fill="#000" opacity="0.18" filter="url(#blur)"/><rect width="60" height="60" rx="6" fill="#000"/><path fill="#fff" d="M30,17 C27,12.2 20,11.3 15,14.3 C9.8,17.5 9.3,25 13,29.2 L30,50 L47,29.2 C50.7,25 50.2,17.5 45,14.3 C40,11.3 33,12.2 30,17 Z"/><path fill="#000" d="M37,19.7 L31.4,19.7 L24.4,29.3 L31,29.3 L25.5,37 L30.8,37 L26.5,45.5 L37,34.8 L31.8,34.8 L36.5,28.3 L30.8,28.3 Z"/></g><g transform="translate(2103.3,1090)"><rect x="0" y="2.5" width="60" height="60" rx="6" fill="#000" opacity="0.18" filter="url(#blur)"/><rect width="60" height="60" rx="6" fill="#000"/><text x="30" y="49" font-family="Liberation Sans" font-weight="bold" font-size="50" fill="#fff" text-anchor="middle" textLength="26" lengthAdjust="spacingAndGlyphs">?</text></g><g transform="translate(2388.3,1251.2)"><rect x="0" y="2.5" width="60" height="60" rx="6" fill="#000" opacity="0.18" filter="url(#blur)"/><rect width="60" height="60" rx="6" fill="#000"/><path fill="#fff" d="M30,17 C27,12.2 20,11.3 15,14.3 C9.8,17.5 9.3,25 13,29.2 L30,50 L47,29.2 C50.7,25 50.2,17.5 45,14.3 C40,11.3 33,12.2 30,17 Z"/><path fill="#000" d="M37,19.7 L31.4,19.7 L24.4,29.3 L31,29.3 L25.5,37 L30.8,37 L26.5,45.5 L37,34.8 L31.8,34.8 L36.5,28.3 L30.8,28.3 Z"/></g><g transform="translate(2335.4,1052.3)"><circle cx="0" cy="2" r="32.5" fill="#000" opacity="0.12" filter="url(#blur)"/><circle r="32.5" fill="#0a891e"/><g fill="#fff"><circle cx="-11.4" cy="-16.9" r="3.5"/><circle cx="12" cy="-16.9" r="3.5"/><path d="M-13,-12.4 H-7 Q-4,-12.4 -3,-9.5 L-1.8,-5 L4.3,-11 L6,-9.3 L-2,-1.5 L-3,-1.5 H-16 Q-16,-10 -13,-12.4 Z"/><rect x="2.2" y="-17.2" width="2.7" height="7"/><path d="M8.5,-12.4 H16.5 Q17.8,-12.4 17.8,-11 V-0.9 H-22.4 V3 H7.6 V19.5 H11.6 V3 H12.4 V19.5 H16.4 V3 H20.6 V-0.9 H17.8 V-0.9 H8 V-7 L2.5,-1.5 H0 L7,-9.5 Q7.5,-12.4 8.5,-12.4 Z"/></g></g><g transform="translate(2428.5,1094.5)"><circle cx="0" cy="2" r="32.5" fill="#000" opacity="0.12" filter="url(#blur)"/><circle r="32.5" fill="#0a891e"/><g fill="#fff"><circle cx="-11.4" cy="-16.9" r="3.5"/><circle cx="12" cy="-16.9" r="3.5"/><path d="M-13,-12.4 H-7 Q-4,-12.4 -3,-9.5 L-1.8,-5 L4.3,-11 L6,-9.3 L-2,-1.5 L-3,-1.5 H-16 Q-16,-10 -13,-12.4 Z"/><rect x="2.2" y="-17.2" width="2.7" height="7"/><path d="M8.5,-12.4 H16.5 Q17.8,-12.4 17.8,-11 V-0.9 H-22.4 V3 H7.6 V19.5 H11.6 V3 H12.4 V19.5 H16.4 V3 H20.6 V-0.9 H17.8 V-0.9 H8 V-7 L2.5,-1.5 H0 L7,-9.5 Q7.5,-12.4 8.5,-12.4 Z"/></g></g><g transform="translate(2476.4,1119.1)"><circle cx="0" cy="2" r="32.5" fill="#000" opacity="0.12" filter="url(#blur)"/><circle r="32.5" fill="#0a891e"/><g fill="#fff"><circle cx="-11.4" cy="-16.9" r="3.5"/><circle cx="12" cy="-16.9" r="3.5"/><path d="M-13,-12.4 H-7 Q-4,-12.4 -3,-9.5 L-1.8,-5 L4.3,-11 L6,-9.3 L-2,-1.5 L-3,-1.5 H-16 Q-16,-10 -13,-12.4 Z"/><rect x="2.2" y="-17.2" width="2.7" height="7"/><path d="M8.5,-12.4 H16.5 Q17.8,-12.4 17.8,-11 V-0.9 H-22.4 V3 H7.6 V19.5 H11.6 V3 H12.4 V19.5 H16.4 V3 H20.6 V-0.9 H17.8 V-0.9 H8 V-7 L2.5,-1.5 H0 L7,-9.5 Q7.5,-12.4 8.5,-12.4 Z"/></g></g><g transform="translate(2569.6,1175.9)"><circle cx="0" cy="2" r="32.5" fill="#000" opacity="0.12" filter="url(#blur)"/><circle r="32.5" fill="#0a891e"/><g fill="#fff"><circle cx="-11.4" cy="-16.9" r="3.5"/><circle cx="12" cy="-16.9" r="3.5"/><path d="M-13,-12.4 H-7 Q-4,-12.4 -3,-9.5 L-1.8,-5 L4.3,-11 L6,-9.3 L-2,-1.5 L-3,-1.5 H-16 Q-16,-10 -13,-12.4 Z"/><rect x="2.2" y="-17.2" width="2.7" height="7"/><path d="M8.5,-12.4 H16.5 Q17.8,-12.4 17.8,-11 V-0.9 H-22.4 V3 H7.6 V19.5 H11.6 V3 H12.4 V19.5 H16.4 V3 H20.6 V-0.9 H17.8 V-0.9 H8 V-7 L2.5,-1.5 H0 L7,-9.5 Q7.5,-12.4 8.5,-12.4 Z"/></g></g><g transform="translate(2653,1241.3)"><circle cx="0" cy="2" r="32.5" fill="#000" opacity="0.12" filter="url(#blur)"/><circle r="32.5" fill="#0a891e"/><g fill="#fff"><circle cx="-11.4" cy="-16.9" r="3.5"/><circle cx="12" cy="-16.9" r="3.5"/><path d="M-13,-12.4 H-7 Q-4,-12.4 -3,-9.5 L-1.8,-5 L4.3,-11 L6,-9.3 L-2,-1.5 L-3,-1.5 H-16 Q-16,-10 -13,-12.4 Z"/><rect x="2.2" y="-17.2" width="2.7" height="7"/><path d="M8.5,-12.4 H16.5 Q17.8,-12.4 17.8,-11 V-0.9 H-22.4 V3 H7.6 V19.5 H11.6 V3 H12.4 V19.5 H16.4 V3 H20.6 V-0.9 H17.8 V-0.9 H8 V-7 L2.5,-1.5 H0 L7,-9.5 Q7.5,-12.4 8.5,-12.4 Z"/></g></g><g transform="translate(741.3,1232.5) rotate(0)"><path d="M-14.5,0 H15 M-2,-11.5 L-14.5,0 L-2,11.5" fill="none" stroke="#b3b3b5" stroke-width="2.6" stroke-linecap="round" stroke-linejoin="round"/></g><g transform="translate(1188,1229) rotate(0)"><path d="M-14.5,0 H15 M-2,-11.5 L-14.5,0 L-2,11.5" fill="none" stroke="#b3b3b5" stroke-width="2.6" stroke-linecap="round" stroke-linejoin="round"/></g><g transform="translate(962.5,1336.4) rotate(0)"><path d="M-14.5,0 H15 M-2,-11.5 L-14.5,0 L-2,11.5" fill="none" stroke="#b3b3b5" stroke-width="2.6" stroke-linecap="round" stroke-linejoin="round"/></g><g transform="translate(1190.8,1336.4) rotate(0)"><path d="M-14.5,0 H15 M-2,-11.5 L-14.5,0 L-2,11.5" fill="none" stroke="#b3b3b5" stroke-width="2.6" stroke-linecap="round" stroke-linejoin="round"/></g><g transform="translate(741.3,1427.7) rotate(0)"><path d="M-14.5,0 H15 M-2,-11.5 L-14.5,0 L-2,11.5" fill="none" stroke="#b3b3b5" stroke-width="2.6" stroke-linecap="round" stroke-linejoin="round"/></g><g transform="translate(1406.5,1427.7) rotate(0)"><path d="M-14.5,0 H15 M-2,-11.5 L-14.5,0 L-2,11.5" fill="none" stroke="#b3b3b5" stroke-width="2.6" stroke-linecap="round" stroke-linejoin="round"/></g><g transform="translate(739.7,1552.7) rotate(0)"><path d="M-14.5,0 H15 M-2,-11.5 L-14.5,0 L-2,11.5" fill="none" stroke="#b3b3b5" stroke-width="2.6" stroke-linecap="round" stroke-linejoin="round"/></g><g transform="translate(1404.3,1550) rotate(0)"><path d="M-14.5,0 H15 M-2,-11.5 L-14.5,0 L-2,11.5" fill="none" stroke="#b3b3b5" stroke-width="2.6" stroke-linecap="round" stroke-linejoin="round"/></g><g transform="translate(223.4,1263.4) rotate(-9)"><path d="M-14.5,0 H15 M-2,-11.5 L-14.5,0 L-2,11.5" fill="none" stroke="#b3b3b5" stroke-width="2.6" stroke-linecap="round" stroke-linejoin="round"/></g><g transform="translate(250.5,1569.4) rotate(-9)"><path d="M-14.5,0 H15 M-2,-11.5 L-14.5,0 L-2,11.5" fill="none" stroke="#b3b3b5" stroke-width="2.6" stroke-linecap="round" stroke-linejoin="round"/></g><g transform="translate(1923.4,1252.5) rotate(8.5)"><path d="M-14.5,0 H15 M-2,-11.5 L-14.5,0 L-2,11.5" fill="none" stroke="#b3b3b5" stroke-width="2.6" stroke-linecap="round" stroke-linejoin="round"/></g><g transform="translate(1935.6,1568.5) rotate(8.5)"><path d="M-14.5,0 H15 M-2,-11.5 L-14.5,0 L-2,11.5" fill="none" stroke="#b3b3b5" stroke-width="2.6" stroke-linecap="round" stroke-linejoin="round"/></g><g transform="translate(2312.5,1379.8) rotate(21)"><path d="M-14.5,0 H15 M-2,-11.5 L-14.5,0 L-2,11.5" fill="none" stroke="#b3b3b5" stroke-width="2.6" stroke-linecap="round" stroke-linejoin="round"/></g><g transform="translate(2229,1562.6) rotate(21)"><path d="M-14.5,0 H15 M-2,-11.5 L-14.5,0 L-2,11.5" fill="none" stroke="#b3b3b5" stroke-width="2.6" stroke-linecap="round" stroke-linejoin="round"/></g><g transform="translate(1408.3,1187.6)"><circle cx="0" cy="2" r="38" fill="#000" opacity="0.12" filter="url(#blur)"/><circle r="38" fill="#8a74b7"/><path fill="#fff" d="M-4.6,-23.4 H5 V-19.2 H9 Q13,-19.2 14.5,-16 L19.5,-5 Q23.8,-4 23.8,0 V12.4 H19.6 V18 Q19.6,20.3 16.2,20.3 Q12.8,20.3 12.8,18 V12.4 H-13.5 V18 Q-13.5,20.3 -16.7,20.3 Q-19.9,20.3 -19.9,18 V12.4 H-23.4 V0 Q-23.4,-4 -19.5,-5 L-14.5,-16 Q-13,-19.2 -9,-19.2 H-4.6 Z"/><path fill="#8a74b7" d="M-11,-15.3 H10 L14.6,-6 H-14.9 Z"/><circle cx="-16.3" cy="1.1" r="3.1" fill="#8a74b7"/><circle cx="16.4" cy="1.1" r="3.1" fill="#8a74b7"/></g><g transform="translate(1074.9,1289)"><circle cx="0" cy="2" r="38" fill="#000" opacity="0.12" filter="url(#blur)"/><circle r="38" fill="#8a74b7"/><path fill="#fff" d="M-19,-13 Q-19,-23.5 0,-23.8 Q19,-23.5 19,-13 L19.5,18 L15.8,18 L15.8,21.5 Q15.8,24 13.3,24 Q10.8,24 10.8,21.5 L10.8,18 L-10.4,18 L-10.4,21.5 Q-10.4,24 -13,24 Q-15.6,24 -15.6,21.5 L-15.6,18 L-19.5,18 Z"/><path fill="#8a74b7" d="M-12.5,-15 L12.5,-15 Q14.5,-15 14.8,-13 L15.6,-0.5 L-16,-0.5 L-15,-13 Q-14.6,-15 -12.5,-15 Z"/><path d="M-9,-18.6 H9" stroke="#8a74b7" stroke-width="1.8"/><circle cx="-13.3" cy="8.5" r="2.6" fill="#8a74b7"/><circle cx="13.1" cy="8.5" r="2.6" fill="#8a74b7"/></g><g transform="translate(1297.8,1286.4)"><circle cx="0" cy="2" r="38" fill="#000" opacity="0.12" filter="url(#blur)"/><circle r="38" fill="#8a74b7"/><path fill="#fff" d="M-19,-13 Q-19,-23.5 0,-23.8 Q19,-23.5 19,-13 L19.5,18 L15.8,18 L15.8,21.5 Q15.8,24 13.3,24 Q10.8,24 10.8,21.5 L10.8,18 L-10.4,18 L-10.4,21.5 Q-10.4,24 -13,24 Q-15.6,24 -15.6,21.5 L-15.6,18 L-19.5,18 Z"/><path fill="#8a74b7" d="M-12.5,-15 L12.5,-15 Q14.5,-15 14.8,-13 L15.6,-0.5 L-16,-0.5 L-15,-13 Q-14.6,-15 -12.5,-15 Z"/><path d="M-9,-18.6 H9" stroke="#8a74b7" stroke-width="1.8"/><circle cx="-13.3" cy="8.5" r="2.6" fill="#8a74b7"/><circle cx="13.1" cy="8.5" r="2.6" fill="#8a74b7"/></g><g transform="translate(1545,1287.5)"><circle cx="0" cy="2" r="38" fill="#000" opacity="0.12" filter="url(#blur)"/><circle r="38" fill="#8a74b7"/><path fill="#fff" d="M-19,-13 Q-19,-23.5 0,-23.8 Q19,-23.5 19,-13 L19.5,18 L15.8,18 L15.8,21.5 Q15.8,24 13.3,24 Q10.8,24 10.8,21.5 L10.8,18 L-10.4,18 L-10.4,21.5 Q-10.4,24 -13,24 Q-15.6,24 -15.6,21.5 L-15.6,18 L-19.5,18 Z"/><path fill="#8a74b7" d="M-12.5,-15 L12.5,-15 Q14.5,-15 14.8,-13 L15.6,-0.5 L-16,-0.5 L-15,-13 Q-14.6,-15 -12.5,-15 Z"/><path d="M-9,-18.6 H9" stroke="#8a74b7" stroke-width="1.8"/><circle cx="-13.3" cy="8.5" r="2.6" fill="#8a74b7"/><circle cx="13.1" cy="8.5" r="2.6" fill="#8a74b7"/></g><g transform="translate(835.9,1491.3)"><circle cx="0" cy="2" r="38" fill="#000" opacity="0.12" filter="url(#blur)"/><circle r="38" fill="#8a74b7"/><path fill="#fff" d="M-19,-13 Q-19,-23.5 0,-23.8 Q19,-23.5 19,-13 L19.5,18 L15.8,18 L15.8,21.5 Q15.8,24 13.3,24 Q10.8,24 10.8,21.5 L10.8,18 L-10.4,18 L-10.4,21.5 Q-10.4,24 -13,24 Q-15.6,24 -15.6,21.5 L-15.6,18 L-19.5,18 Z"/><path fill="#8a74b7" d="M-12.5,-15 L12.5,-15 Q14.5,-15 14.8,-13 L15.6,-0.5 L-16,-0.5 L-15,-13 Q-14.6,-15 -12.5,-15 Z"/><path d="M-9,-18.6 H9" stroke="#8a74b7" stroke-width="1.8"/><circle cx="-13.3" cy="8.5" r="2.6" fill="#8a74b7"/><circle cx="13.1" cy="8.5" r="2.6" fill="#8a74b7"/></g><g transform="translate(1078.3,1490.2)"><circle cx="0" cy="2" r="38" fill="#000" opacity="0.12" filter="url(#blur)"/><circle r="38" fill="#8a74b7"/><path fill="#fff" d="M-19,-13 Q-19,-23.5 0,-23.8 Q19,-23.5 19,-13 L19.5,18 L15.8,18 L15.8,21.5 Q15.8,24 13.3,24 Q10.8,24 10.8,21.5 L10.8,18 L-10.4,18 L-10.4,21.5 Q-10.4,24 -13,24 Q-15.6,24 -15.6,21.5 L-15.6,18 L-19.5,18 Z"/><path fill="#8a74b7" d="M-12.5,-15 L12.5,-15 Q14.5,-15 14.8,-13 L15.6,-0.5 L-16,-0.5 L-15,-13 Q-14.6,-15 -12.5,-15 Z"/><path d="M-9,-18.6 H9" stroke="#8a74b7" stroke-width="1.8"/><circle cx="-13.3" cy="8.5" r="2.6" fill="#8a74b7"/><circle cx="13.1" cy="8.5" r="2.6" fill="#8a74b7"/></g><g transform="translate(1310.3,1481.5)"><circle cx="0" cy="2" r="38" fill="#000" opacity="0.12" filter="url(#blur)"/><circle r="38" fill="#8a74b7"/><path fill="#fff" d="M-19,-13 Q-19,-23.5 0,-23.8 Q19,-23.5 19,-13 L19.5,18 L15.8,18 L15.8,21.5 Q15.8,24 13.3,24 Q10.8,24 10.8,21.5 L10.8,18 L-10.4,18 L-10.4,21.5 Q-10.4,24 -13,24 Q-15.6,24 -15.6,21.5 L-15.6,18 L-19.5,18 Z"/><path fill="#8a74b7" d="M-12.5,-15 L12.5,-15 Q14.5,-15 14.8,-13 L15.6,-0.5 L-16,-0.5 L-15,-13 Q-14.6,-15 -12.5,-15 Z"/><path d="M-9,-18.6 H9" stroke="#8a74b7" stroke-width="1.8"/><circle cx="-13.3" cy="8.5" r="2.6" fill="#8a74b7"/><circle cx="13.1" cy="8.5" r="2.6" fill="#8a74b7"/></g><g transform="translate(1549.5,1485.9)"><circle cx="0" cy="2" r="38" fill="#000" opacity="0.12" filter="url(#blur)"/><circle r="38" fill="#8a74b7"/><path fill="#fff" d="M-19,-13 Q-19,-23.5 0,-23.8 Q19,-23.5 19,-13 L19.5,18 L15.8,18 L15.8,21.5 Q15.8,24 13.3,24 Q10.8,24 10.8,21.5 L10.8,18 L-10.4,18 L-10.4,21.5 Q-10.4,24 -13,24 Q-15.6,24 -15.6,21.5 L-15.6,18 L-19.5,18 Z"/><path fill="#8a74b7" d="M-12.5,-15 L12.5,-15 Q14.5,-15 14.8,-13 L15.6,-0.5 L-16,-0.5 L-15,-13 Q-14.6,-15 -12.5,-15 Z"/><path d="M-9,-18.6 H9" stroke="#8a74b7" stroke-width="1.8"/><circle cx="-13.3" cy="8.5" r="2.6" fill="#8a74b7"/><circle cx="13.1" cy="8.5" r="2.6" fill="#8a74b7"/></g><g transform="translate(1881.5,1385.2)"><circle cx="0" cy="2" r="38" fill="#000" opacity="0.12" filter="url(#blur)"/><circle r="38" fill="#8a74b7"/><path fill="#fff" d="M-19,-13 Q-19,-23.5 0,-23.8 Q19,-23.5 19,-13 L19.5,18 L15.8,18 L15.8,21.5 Q15.8,24 13.3,24 Q10.8,24 10.8,21.5 L10.8,18 L-10.4,18 L-10.4,21.5 Q-10.4,24 -13,24 Q-15.6,24 -15.6,21.5 L-15.6,18 L-19.5,18 Z"/><path fill="#8a74b7" d="M-12.5,-15 L12.5,-15 Q14.5,-15 14.8,-13 L15.6,-0.5 L-16,-0.5 L-15,-13 Q-14.6,-15 -12.5,-15 Z"/><path d="M-9,-18.6 H9" stroke="#8a74b7" stroke-width="1.8"/><circle cx="-13.3" cy="8.5" r="2.6" fill="#8a74b7"/><circle cx="13.1" cy="8.5" r="2.6" fill="#8a74b7"/></g><g transform="translate(1880.6,1494)"><circle cx="0" cy="2" r="38" fill="#000" opacity="0.12" filter="url(#blur)"/><circle r="38" fill="#8a74b7"/><path fill="#fff" d="M-19,-13 Q-19,-23.5 0,-23.8 Q19,-23.5 19,-13 L19.5,18 L15.8,18 L15.8,21.5 Q15.8,24 13.3,24 Q10.8,24 10.8,21.5 L10.8,18 L-10.4,18 L-10.4,21.5 Q-10.4,24 -13,24 Q-15.6,24 -15.6,21.5 L-15.6,18 L-19.5,18 Z"/><path fill="#8a74b7" d="M-12.5,-15 L12.5,-15 Q14.5,-15 14.8,-13 L15.6,-0.5 L-16,-0.5 L-15,-13 Q-14.6,-15 -12.5,-15 Z"/><path d="M-9,-18.6 H9" stroke="#8a74b7" stroke-width="1.8"/><circle cx="-13.3" cy="8.5" r="2.6" fill="#8a74b7"/><circle cx="13.1" cy="8.5" r="2.6" fill="#8a74b7"/></g><g transform="translate(1077.1,1384)"><circle cx="0" cy="2" r="38" fill="#000" opacity="0.12" filter="url(#blur)"/><circle r="38" fill="#8a74b7"/><rect x="-16" y="-25.9" width="32.7" height="52.2" rx="2.5" fill="#fff"/><rect x="-12.8" y="-19.5" width="25.6" height="41.2" fill="#8a74b7"/><path d="M-3.5,-22.9 H3.9" stroke="#8a74b7" stroke-width="1.6"/><path fill="#fff" d="M-5.5,-14.9 H6 Q7.5,-14.9 8.3,-12.5 L9.2,-9 Q9.8,-8.5 9.8,-7 V-1.5 H7.5 V0.7 H5 V-1.5 H-4.3 V0.7 H-6.8 V-1.5 H-9.2 V-7 Q-9.2,-8.5 -8.5,-9 L-7.5,-12.5 Q-6.8,-14.9 -5.5,-14.9 Z"/><path fill="#8a74b7" d="M-4.5,-12.5 H5 L6,-9.5 H-5.8 Z"/><path fill="#fff" d="M0,17.5 L-4.3,9.5 Q-5.4,7.5 -5.4,6 A5.4,5.4 0 1 1 5.4,6 Q5.4,7.5 4.3,9.5 Z"/><circle cx="0" cy="6" r="2" fill="#8a74b7"/></g><g transform="translate(2213.1,1485.5)"><circle cx="0" cy="2" r="38" fill="#000" opacity="0.12" filter="url(#blur)"/><circle r="38" fill="#8a74b7"/><ellipse cx="-10" cy="-21.7" rx="4.8" ry="3.5" fill="#fff"/><path fill="#fff" d="M-6,-23.2 H13 L14.8,-21.5 L13,-19.9 H-6 Z"/><circle cx="-11.5" cy="-21.7" r="1" fill="#8a74b7"/><path fill="#fff" d="M-8,-16 H8 Q11.5,-16 12.5,-12.5 L15,-4.5 H18.5 Q21.3,-4.5 21.3,-2.2 Q21.3,0 18.5,0 H19.2 V17 H19.2 V19.5 Q19.2,22 16.5,22 H14.4 Q11.7,22 11.7,19.5 V17 H-11 V19.5 Q-11,22 -13.7,22 H-15.8 Q-18.5,22 -18.5,19.5 V17 V0 H-18.5 Q-21,0 -21,-2.2 Q-21,-4.5 -18.5,-4.5 H-15 L-12.5,-12.5 Q-11.5,-16 -8,-16 Z"/><path fill="#8a74b7" d="M-7,-11.4 H7 Q9.5,-11.4 10.3,-9 L11.7,-1.8 H-11.7 L-10.3,-9 Q-9.5,-11.4 -7,-11.4 Z"/><rect x="-13.1" y="4.6" width="6" height="4.6" fill="#8a74b7"/><rect x="7.2" y="4.6" width="6" height="4.6" fill="#8a74b7"/></g>
<rect x="24" y="20" width="648" height="1008" rx="19" fill="#0f1541"/><polyline points="66.5,45 49.5,62.5 66.5,80" fill="none" stroke="#e8202a" stroke-width="3.6" stroke-linecap="round" stroke-linejoin="round"/><path fill="#fff" d="M88,45 H107 V50.5 H100.5 V74.5 H107 V80 H88 V74.5 H94.5 V50.5 H88 Z"/><path fill="#e8202a" transform="translate(141.5,62.5) rotate(48)" d="M0,-24.3 C2.3,-24.3 3.1,-21 3.1,-17 L3.1,-8.8 L7.2,-10.2 L9.2,-8.8 L9.2,-6.4 L22.6,-0.2 Q24.6,1.4 22.9,3.5 L3.1,1.6 L2.9,12.5 L8.8,18.6 Q10.1,20.9 8,21.7 L0,20.2 L-8,21.7 Q-10.1,20.9 -8.8,18.6 L-2.9,12.5 L-3.1,1.6 L-22.9,3.5 Q-24.6,1.4 -22.6,-0.2 L-9.2,-6.4 L-9.2,-8.8 L-7.2,-10.2 L-3.1,-8.8 L-3.1,-17 C-3.1,-21 -2.3,-24.3 0,-24.3 Z"/><text x="173" y="80" font-family="Liberation Sans" font-size="48" font-weight="bold" fill="#fff" text-anchor="start" textLength="96" lengthAdjust="spacingAndGlyphs">OAK</text><path d="M464.2,62.5 A12,12 0 1 1 474.2,74.4" fill="none" stroke="#fff" stroke-width="3.5"/><polygon fill="#fff" points="465.5,74.8 475,66 475,83.5"/><text x="508" y="77.3" font-family="Liberation Sans" font-size="28" font-weight="bold" fill="#c9cce0" text-anchor="start" textLength="139.5" lengthAdjust="spacingAndGlyphs">Reset Map</text><rect x="48" y="113.7" width="528" height="60" rx="9" fill="#fff"/><text x="70" y="157" font-family="Liberation Sans" font-size="33" font-weight="normal" fill="#767676" text-anchor="start" textLength="98.6" lengthAdjust="spacingAndGlyphs">Search</text><circle cx="615.9" cy="139.7" r="20.2" fill="none" stroke="#fff" stroke-width="7"/><line x1="630" y1="158" x2="643" y2="168.5" stroke="#fff" stroke-width="7" stroke-linecap="round"/><rect x="48" y="210" width="600" height="67.7" rx="9" fill="#0f1541" stroke="#fff" stroke-width="2.5"/><rect x="168" y="210" width="241" height="67.7" fill="#fff"/><text x="108.6" y="255.5" font-family="Liberation Sans" font-size="30" font-weight="bold" fill="#fff" text-anchor="middle" textLength="36" lengthAdjust="spacingAndGlyphs">All</text><text x="288.5" y="255.5" font-family="Liberation Sans" font-size="30" font-weight="bold" fill="#0f1541" text-anchor="middle" textLength="146" lengthAdjust="spacingAndGlyphs">Terminal 1</text><text x="527.8" y="255.5" font-family="Liberation Sans" font-size="30" font-weight="bold" fill="#fff" text-anchor="middle" textLength="148" lengthAdjust="spacingAndGlyphs">Terminal 2</text><rect x="48" y="298" width="600" height="67.6" rx="9" fill="#0f1541" stroke="#fff" stroke-width="2.5"/><rect x="168" y="298" width="241" height="67.6" fill="#fff"/><text x="108.6" y="343.5" font-family="Liberation Sans" font-size="30" font-weight="bold" fill="#fff" text-anchor="middle" textLength="36" lengthAdjust="spacingAndGlyphs">All</text><text x="289.6" y="343.5" font-family="Liberation Sans" font-size="30" font-weight="bold" fill="#0f1541" text-anchor="middle" textLength="169" lengthAdjust="spacingAndGlyphs">Pre-Security</text><text x="528.2" y="343.5" font-family="Liberation Sans" font-size="30" font-weight="bold" fill="#fff" text-anchor="middle" textLength="184.4" lengthAdjust="spacingAndGlyphs">Post-Security</text><rect x="48" y="386" width="600" height="67.6" rx="9" fill="#0f1541" stroke="#fff" stroke-width="2.5"/><path fill="#fff" d="M57,386 H251 V453.6 H57 Q48,453.6 48,444.6 V395 Q48,386 57,386 Z"/><text x="149.3" y="431" font-family="Liberation Sans" font-size="30" font-weight="bold" fill="#0f1541" text-anchor="middle" textLength="97.5" lengthAdjust="spacingAndGlyphs">English</text><text x="354.8" y="431" font-family="Liberation Sans" font-size="30" font-weight="bold" fill="#fff" text-anchor="middle" textLength="105.8" lengthAdjust="spacingAndGlyphs">Espa&#241;ol</text><rect x="459.3" y="386" width="2.2" height="67.6" fill="#fff"/><g transform="translate(500,395) scale(0.0427)" fill="#fff"><rect x="300" y="325" width="545" height="70"/><rect x="425" y="262" width="75" height="70"/><rect x="655" y="262" width="75" height="70"/><rect x="470" y="390" width="70" height="125"/><rect x="620" y="390" width="70" height="125"/><path d="M365,430 L425,420 L455,505 L395,515 Z M740,420 L800,430 L770,515 L710,505 Z"/><rect x="280" y="505" width="590" height="75"/><rect x="350" y="600" width="455" height="285"/><rect x="440" y="655" width="275" height="50" fill="#0f1541"/><rect x="440" y="745" width="275" height="50" fill="#0f1541"/><path d="M965,330 L1030,280 L1110,380 L1045,430 Z"/><path d="M950,480 H1100 V760 L1010,880 L940,830 L1030,720 V550 H950 Z"/><path d="M1010,820 Q1100,860 1250,860 H1545 V900 H1250 Q1080,900 990,870 Z"/><path d="M1150,290 H1500 V340 L1420,400 H1340 L1380,350 H1150 Z"/><rect x="1160" y="390" width="360" height="420"/><g fill="#0f1541"><rect x="1235" y="470" width="85" height="45"/><rect x="1395" y="470" width="60" height="45"/><rect x="1235" y="575" width="85" height="45"/><rect x="1395" y="575" width="60" height="45"/><rect x="1235" y="680" width="85" height="130"/><rect x="1395" y="680" width="60" height="90"/></g><rect x="1320" y="390" width="75" height="420"/><path d="M1670,330 L1735,280 L1815,380 L1750,430 Z"/><path d="M1610,480 H1760 V760 L1800,800 L1740,860 L1680,800 V550 H1610 Z"/><path d="M1830,330 L2190,280 L2200,345 L1840,395 Z"/><rect x="1800" y="460" width="430" height="75"/><rect x="1975" y="340" width="75" height="300"/><rect x="1830" y="640" width="370" height="245"/><rect x="1925" y="705" width="185" height="95" fill="#0f1541"/></g><rect x="24" y="477.8" width="648" height="2.2" fill="#dfe2eb"/><rect x="24" y="587.8" width="648" height="2.2" fill="#dfe2eb"/><rect x="24" y="697.8" width="648" height="2.2" fill="#dfe2eb"/><rect x="24" y="807.8" width="648" height="2.2" fill="#dfe2eb"/><rect x="24" y="917.8" width="648" height="2.2" fill="#dfe2eb"/><g transform="translate(78,534)"><circle r="28.8" fill="#0b7bc8" stroke="#fff" stroke-width="2"/><g transform="scale(0.74)"><path fill="#fff" d="M-22.9,-8 L-11,-14.4 V-2 L-5,-2 V12 H-2.3 V17.9 H-19.5 Q-22.9,17.9 -22.9,14.5 Z"/><path fill="#0b7bc8" d="M-8.5,-7.8 H-6.5 V5.5 L-12.5,6 Z M-18.5,12 H-5.5 V14.2 H-18.5 Z"/><rect x="2" y="-13.7" width="19.5" height="31.6" fill="#fff"/><g stroke="#fff" stroke-width="2.6" stroke-linecap="round"><path d="M11.7,-15 L11.7,-22.5 M11.7,-15 L6.5,-20.5 M11.7,-15 L16.9,-20.5 M11.7,-15 L4.5,-16.5 M11.7,-15 L18.9,-16.5"/></g><g fill="#0b7bc8"><rect x="5.9" y="-10.5" width="3.5" height="4.6"/><rect x="13.7" y="-10.5" width="3.5" height="4.6"/><rect x="5.9" y="-1.2" width="3.5" height="15.6"/><rect x="13.7" y="-1.2" width="3.5" height="15.6"/></g></g></g><text x="148.4" y="548" font-family="Liberation Sans" font-size="37" font-weight="bold" fill="#fff" text-anchor="start" textLength="290.3" lengthAdjust="spacingAndGlyphs">Shops and Kiosk</text><polyline points="617.5,514.5 638.5,534 617.5,553.5" fill="none" stroke="#fff" stroke-width="3.2" stroke-linecap="round" stroke-linejoin="round"/><g transform="translate(78,644)"><circle r="28.8" fill="#d926d0" stroke="#fff" stroke-width="2"/><g fill="#fff"><circle cx="-7.3" cy="-14" r="3.1"/><circle cx="7.1" cy="-14" r="3.1"/><path d="M-12.4,2.5 V-8 Q-12.4,-10.5 -10,-10.5 H-4.8 Q-2.5,-10.5 -2.5,-8 V2.5 Z"/><path d="M2.5,16.5 V-8 Q2.5,-10.5 4.8,-10.5 H9.4 Q11.7,-10.5 11.7,-8 V16.5 Z"/><rect x="-18" y="2.3" width="35.4" height="2.6"/></g><rect x="6.8" y="4.9" width="0.8" height="11.6" fill="#d926d0"/></g><text x="148.4" y="658" font-family="Liberation Sans" font-size="37" font-weight="bold" fill="#fff" text-anchor="start" textLength="181" lengthAdjust="spacingAndGlyphs">Amenities</text><polyline points="617.5,624.5 638.5,644 617.5,663.5" fill="none" stroke="#fff" stroke-width="3.2" stroke-linecap="round" stroke-linejoin="round"/><g transform="translate(78,754)"><circle r="28.8" fill="#0a891e" stroke="#fff" stroke-width="2"/><g transform="scale(0.93)"><path fill="#fff" d="M-2.2,-20 Q0,-23 2.2,-20 L2.2,-6 L20,3 L20,6.5 L2.2,2 L2,12 L6.5,16 L6.5,18.5 L0,17 L-6.5,18.5 L-6.5,16 L-2,12 L-2.2,2 L-20,6.5 L-20,3 L-2.2,-6 Z"/></g></g><text x="148.4" y="768" font-family="Liberation Sans" font-size="37" font-weight="bold" fill="#fff" text-anchor="start" textLength="136.2" lengthAdjust="spacingAndGlyphs">Airlines</text><polyline points="617.5,734.5 638.5,754 617.5,773.5" fill="none" stroke="#fff" stroke-width="3.2" stroke-linecap="round" stroke-linejoin="round"/><g transform="translate(78,864)"><circle r="28.8" fill="#8a74b7" stroke="#fff" stroke-width="2"/><g transform="scale(0.74)"><path fill="#fff" d="M-19,-13 Q-19,-23.5 0,-23.8 Q19,-23.5 19,-13 L19.5,18 L15.8,18 L15.8,21.5 Q15.8,24 13.3,24 Q10.8,24 10.8,21.5 L10.8,18 L-10.4,18 L-10.4,21.5 Q-10.4,24 -13,24 Q-15.6,24 -15.6,21.5 L-15.6,18 L-19.5,18 Z"/><path fill="#8a74b7" d="M-12.5,-15 L12.5,-15 Q14.5,-15 14.8,-13 L15.6,-0.5 L-16,-0.5 L-15,-13 Q-14.6,-15 -12.5,-15 Z"/><path d="M-9,-18.6 H9" stroke="#8a74b7" stroke-width="1.8"/><circle cx="-13.3" cy="8.5" r="2.6" fill="#8a74b7"/><circle cx="13.1" cy="8.5" r="2.6" fill="#8a74b7"/></g></g><text x="148.4" y="878.2" font-family="Liberation Sans" font-size="37" font-weight="bold" fill="#fff" text-anchor="start" textLength="414.1" lengthAdjust="spacingAndGlyphs">Ground Transportation</text><polyline points="617.5,844.5 638.5,864 617.5,883.5" fill="none" stroke="#fff" stroke-width="3.2" stroke-linecap="round" stroke-linejoin="round"/><g transform="translate(48,944)"><rect x="1.2" y="1.2" width="57.6" height="57.6" rx="10" fill="#000" stroke="#fff" stroke-width="2.4"/><g transform="translate(3,3) scale(0.9)"><circle cx="18.6" cy="15" r="2.9" fill="#fff"/><circle cx="42.9" cy="14.8" r="2.9" fill="#fff"/><path fill="#fff" d="M14.2,19 H23 Q24.3,19 24.8,20.3 L27.3,30.8 L26,31.5 L23.8,24.5 L26.5,36.2 H21.8 V48.1 H19.4 V36.2 H18 V48.1 H15.6 V36.2 H10.9 L13.6,24.5 L11.4,31.5 L10.1,30.8 L12.6,20.3 Q13,19 14.2,19 Z"/><rect x="29.7" y="12.1" width="2.8" height="36" fill="#fff"/><path fill="#fff" d="M37.5,19 H48.5 Q50,19 50,20.5 V32.5 H48.3 V23.5 H47.2 V48.1 H43.6 V33.3 H42.2 V48.1 H38.7 V23.5 H37.6 V32.5 H35.9 V20.5 Q35.9,19 37.5,19 Z"/></g></g><text x="148.4" y="988" font-family="Liberation Sans" font-size="37" font-weight="bold" fill="#fff" text-anchor="start" textLength="156.6" lengthAdjust="spacingAndGlyphs">Facilities</text><polyline points="617.5,954.5 638.5,974 617.5,993.5" fill="none" stroke="#fff" stroke-width="3.2" stroke-linecap="round" stroke-linejoin="round"/>
</svg></body></html>
